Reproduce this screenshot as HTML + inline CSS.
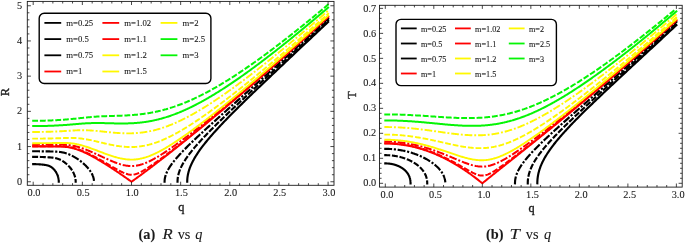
<!DOCTYPE html>
<html><head><meta charset="utf-8"><title>R vs q, T vs q</title>
<style>
html,body{margin:0;padding:0;background:#fff;}
svg{display:block;}
text{font-family:"Liberation Serif","DejaVu Serif",serif;fill:#1a1a1a;stroke:#1a1a1a;stroke-width:0.1px;}
.al{stroke-width:0.35px;}
.tl text{font-size:10.3px;}
.al{font-size:12.3px;}
.cap{font-size:14.3px;}
</style></head><body>
<svg width="685" height="243" viewBox="0 0 685 243">
<rect width="685" height="243" fill="#fff"/>
<clipPath id="clip27"><rect x="27.3" y="1.4" width="306.7" height="183.9"/></clipPath>
<g clip-path="url(#clip27)" fill="none" stroke-width="1.8" stroke-linejoin="round">
<path d="M33.20,164.15 L33.52,164.15 L33.84,164.15 L34.16,164.15 L34.47,164.16 L34.78,164.16 L35.09,164.17 L35.40,164.17 L35.71,164.18 L36.01,164.19 L36.32,164.20 L36.62,164.21 L36.92,164.22 L37.21,164.23 L37.51,164.24 L37.80,164.26 L38.09,164.27 L38.38,164.29 L38.66,164.30 L38.95,164.32 L39.23,164.34 L39.51,164.36 L39.79,164.37 L40.06,164.39 L40.34,164.41 L40.61,164.44 L40.88,164.46 L41.15,164.48 L41.42,164.50 L41.68,164.53 L41.94,164.55 L42.20,164.58 L42.46,164.61 L42.72,164.63 L42.97,164.66 L43.22,164.69 L43.47,164.72 L43.72,164.75 L43.96,164.78 L44.21,164.81 L44.45,164.84 L44.69,164.88 L44.93,164.91 L45.16,164.95 L45.40,164.98 L45.63,165.02 L45.86,165.06 L46.09,165.10 L46.31,165.15 L46.54,165.19 L46.76,165.24 L46.98,165.29 L47.19,165.34 L47.41,165.40 L47.62,165.45 L47.83,165.51 L48.04,165.58 L48.25,165.64 L48.46,165.71 L48.66,165.78 L48.86,165.86 L49.06,165.94 L49.26,166.02 L49.45,166.10 L49.65,166.19 L49.84,166.28 L50.03,166.37 L50.21,166.47 L50.40,166.57 L50.58,166.67 L50.76,166.78 L50.94,166.89 L51.12,167.00 L51.29,167.11 L51.47,167.23 L51.64,167.35 L51.81,167.47 L51.97,167.60 L52.14,167.72 L52.30,167.85 L52.46,167.99 L52.62,168.12 L52.78,168.26 L52.93,168.39 L53.09,168.53 L53.24,168.68 L53.39,168.82 L53.53,168.97 L53.68,169.11 L53.82,169.26 L53.96,169.41 L54.10,169.57 L54.24,169.72 L54.37,169.88 L54.50,170.03 L54.63,170.19 L54.76,170.35 L54.89,170.51 L55.01,170.68 L55.14,170.84 L55.26,171.00 L55.37,171.17 L55.49,171.34 L55.60,171.50 L55.72,171.67 L55.83,171.84 L55.94,172.01 L56.04,172.19 L56.15,172.36 L56.25,172.53 L56.35,172.71 L56.45,172.88 L56.54,173.06 L56.64,173.23 L56.73,173.41 L56.82,173.59 L56.91,173.76 L56.99,173.94 L57.08,174.12 L57.16,174.30 L57.24,174.48 L57.32,174.66 L57.39,174.84 L57.47,175.03 L57.54,175.21 L57.61,175.39 L57.68,175.57 L57.74,175.76 L57.81,175.94 L57.87,176.12 L57.93,176.31 L57.98,176.49 L58.04,176.68 L58.09,176.86 L58.15,177.05 L58.19,177.24 L58.24,177.42 L58.29,177.61 L58.33,177.80 L58.37,177.98 L58.41,178.17 L58.45,178.36 L58.48,178.54 L58.52,178.73 L58.55,178.92 L58.58,179.11 L58.61,179.30 L58.63,179.48 L58.65,179.67 L58.68,179.86 L58.70,180.05 L58.71,180.24 L58.73,180.43 L58.74,180.62 L58.75,180.80 L58.76,180.99 L58.77,181.18 L58.77,181.37 L58.78,181.56 L58.78,181.75" stroke="#000000" stroke-width="2.15" stroke-linecap="square"/>
<path d="M187.22,181.75 L187.23,181.12 L187.25,180.49 L187.27,179.86 L187.31,179.23 L187.36,178.60 L187.42,177.97 L187.50,177.34 L187.58,176.71 L187.68,176.08 L187.78,175.44 L187.90,174.81 L188.03,174.17 L188.17,173.54 L188.32,172.90 L188.48,172.26 L188.65,171.62 L188.83,170.98 L189.03,170.33 L189.24,169.68 L189.45,169.04 L189.68,168.39 L189.92,167.73 L190.17,167.08 L190.43,166.42 L190.71,165.76 L190.99,165.10 L191.29,164.44 L191.59,163.77 L191.91,163.10 L192.24,162.42 L192.58,161.75 L192.93,161.07 L193.29,160.39 L193.67,159.70 L194.05,159.01 L194.45,158.32 L194.85,157.62 L195.27,156.92 L195.70,156.22 L196.14,155.51 L196.59,154.80 L197.05,154.08 L197.53,153.36 L198.01,152.64 L198.51,151.91 L199.02,151.18 L199.53,150.44 L200.06,149.70 L200.60,148.95 L201.16,148.20 L201.72,147.44 L202.29,146.68 L202.88,145.91 L203.47,145.14 L204.08,144.36 L204.70,143.58 L205.33,142.79 L205.97,142.00 L206.62,141.20 L207.28,140.40 L207.96,139.59 L208.64,138.77 L209.34,137.95 L210.05,137.13 L210.77,136.29 L211.50,135.45 L212.24,134.61 L212.99,133.75 L213.75,132.90 L214.53,132.03 L215.31,131.16 L216.11,130.28 L216.92,129.40 L217.74,128.51 L218.57,127.61 L219.41,126.71 L220.26,125.79 L221.13,124.88 L222.00,123.95 L222.89,123.02 L223.78,122.08 L224.69,121.13 L225.61,120.18 L226.54,119.22 L227.48,118.25 L228.44,117.27 L229.40,116.29 L230.38,115.29 L231.36,114.29 L232.36,113.29 L233.37,112.27 L234.39,111.25 L235.42,110.22 L236.46,109.18 L237.52,108.13 L238.58,107.08 L239.65,106.01 L240.74,104.94 L241.84,103.86 L242.95,102.77 L244.07,101.68 L245.20,100.57 L246.34,99.46 L247.50,98.33 L248.66,97.20 L249.84,96.06 L251.02,94.91 L252.22,93.76 L253.43,92.59 L254.65,91.42 L255.88,90.23 L257.12,89.04 L258.38,87.84 L259.64,86.63 L260.92,85.41 L262.21,84.18 L263.50,82.94 L264.81,81.69 L266.13,80.43 L267.47,79.16 L268.81,77.89 L270.16,76.60 L271.53,75.31 L272.91,74.00 L274.29,72.69 L275.69,71.36 L277.10,70.03 L278.52,68.69 L279.95,67.33 L281.40,65.97 L282.85,64.60 L284.32,63.21 L285.79,61.82 L287.28,60.42 L288.78,59.00 L290.29,57.58 L291.81,56.15 L293.34,54.70 L294.89,53.25 L296.44,51.78 L298.01,50.31 L299.59,48.83 L301.17,47.33 L302.77,45.83 L304.38,44.31 L306.01,42.78 L307.64,41.25 L309.28,39.70 L310.94,38.14 L312.60,36.57 L314.28,34.99 L315.97,33.40 L317.67,31.80 L319.38,30.19 L321.10,28.57 L322.83,26.94 L324.58,25.29 L326.33,23.64 L328.10,21.97" stroke="#000000" stroke-width="2.15" stroke-linecap="square"/>
<path d="M33.20,156.86 L33.73,156.86 L34.26,156.86 L34.79,156.86 L35.31,156.87 L35.83,156.87 L36.34,156.88 L36.86,156.88 L37.37,156.89 L37.87,156.90 L38.37,156.91 L38.87,156.92 L39.37,156.93 L39.86,156.94 L40.35,156.95 L40.84,156.97 L41.32,156.98 L41.80,156.99 L42.27,157.01 L42.74,157.03 L43.21,157.04 L43.68,157.06 L44.14,157.08 L44.60,157.10 L45.05,157.12 L45.51,157.14 L45.95,157.16 L46.40,157.18 L46.84,157.21 L47.28,157.23 L47.72,157.26 L48.15,157.28 L48.58,157.31 L49.00,157.34 L49.42,157.37 L49.84,157.40 L50.26,157.43 L50.67,157.46 L51.08,157.50 L51.48,157.54 L51.88,157.58 L52.28,157.62 L52.67,157.67 L53.07,157.72 L53.45,157.77 L53.84,157.83 L54.22,157.90 L54.60,157.96 L54.97,158.04 L55.34,158.11 L55.71,158.20 L56.08,158.29 L56.44,158.38 L56.80,158.48 L57.15,158.58 L57.50,158.69 L57.85,158.81 L58.19,158.93 L58.53,159.05 L58.87,159.18 L59.21,159.32 L59.54,159.46 L59.87,159.60 L60.19,159.75 L60.51,159.90 L60.83,160.06 L61.14,160.22 L61.45,160.39 L61.76,160.56 L62.06,160.73 L62.36,160.91 L62.66,161.09 L62.96,161.28 L63.25,161.46 L63.53,161.65 L63.82,161.85 L64.10,162.04 L64.38,162.24 L64.65,162.44 L64.92,162.65 L65.19,162.85 L65.45,163.06 L65.71,163.27 L65.97,163.48 L66.22,163.70 L66.47,163.91 L66.72,164.13 L66.96,164.35 L67.20,164.57 L67.44,164.79 L67.67,165.01 L67.90,165.24 L68.13,165.47 L68.35,165.69 L68.57,165.92 L68.79,166.15 L69.00,166.38 L69.21,166.61 L69.42,166.85 L69.62,167.08 L69.82,167.31 L70.02,167.55 L70.21,167.78 L70.40,168.02 L70.59,168.26 L70.77,168.50 L70.95,168.73 L71.13,168.97 L71.30,169.21 L71.47,169.45 L71.64,169.69 L71.80,169.94 L71.96,170.18 L72.12,170.42 L72.27,170.66 L72.42,170.90 L72.57,171.15 L72.71,171.39 L72.85,171.63 L72.98,171.88 L73.12,172.12 L73.25,172.37 L73.37,172.61 L73.49,172.86 L73.61,173.10 L73.73,173.35 L73.84,173.59 L73.95,173.84 L74.06,174.08 L74.16,174.33 L74.26,174.58 L74.36,174.82 L74.45,175.07 L74.54,175.32 L74.62,175.56 L74.70,175.81 L74.78,176.06 L74.86,176.30 L74.93,176.55 L75.00,176.80 L75.07,177.04 L75.13,177.29 L75.19,177.54 L75.24,177.79 L75.29,178.03 L75.34,178.28 L75.39,178.53 L75.43,178.78 L75.47,179.02 L75.50,179.27 L75.54,179.52 L75.56,179.77 L75.59,180.02 L75.61,180.26 L75.63,180.51 L75.65,180.76 L75.66,181.01 L75.67,181.25 L75.67,181.50 L75.67,181.75" stroke="#000000" stroke-width="2.15" stroke-linecap="square" stroke-dasharray="3.85 3.85"/>
<path d="M177.52,181.75 L177.53,181.17 L177.55,180.59 L177.58,180.00 L177.62,179.42 L177.67,178.84 L177.74,178.25 L177.81,177.67 L177.90,177.08 L178.00,176.50 L178.12,175.91 L178.24,175.32 L178.38,174.73 L178.53,174.14 L178.69,173.55 L178.86,172.95 L179.05,172.36 L179.24,171.76 L179.45,171.16 L179.67,170.55 L179.90,169.95 L180.15,169.34 L180.40,168.73 L180.67,168.12 L180.95,167.50 L181.24,166.88 L181.55,166.26 L181.86,165.64 L182.19,165.01 L182.53,164.38 L182.88,163.74 L183.25,163.10 L183.62,162.46 L184.01,161.81 L184.41,161.16 L184.82,160.51 L185.24,159.85 L185.68,159.19 L186.12,158.52 L186.58,157.85 L187.05,157.18 L187.53,156.49 L188.03,155.81 L188.53,155.12 L189.05,154.42 L189.58,153.72 L190.12,153.02 L190.68,152.31 L191.24,151.59 L191.82,150.87 L192.41,150.14 L193.01,149.41 L193.63,148.67 L194.25,147.92 L194.89,147.17 L195.54,146.42 L196.20,145.65 L196.87,144.88 L197.56,144.11 L198.26,143.33 L198.96,142.54 L199.68,141.74 L200.42,140.94 L201.16,140.13 L201.92,139.31 L202.69,138.49 L203.47,137.66 L204.26,136.82 L205.06,135.98 L205.88,135.13 L206.71,134.27 L207.55,133.40 L208.40,132.53 L209.26,131.65 L210.14,130.76 L211.03,129.86 L211.92,128.95 L212.84,128.04 L213.76,127.12 L214.69,126.19 L215.64,125.25 L216.60,124.31 L217.57,123.35 L218.55,122.39 L219.55,121.42 L220.56,120.44 L221.57,119.45 L222.60,118.46 L223.65,117.45 L224.70,116.44 L225.77,115.41 L226.84,114.38 L227.93,113.34 L229.04,112.29 L230.15,111.23 L231.28,110.16 L232.41,109.09 L233.56,108.00 L234.72,106.90 L235.90,105.80 L237.08,104.68 L238.28,103.56 L239.49,102.42 L240.71,101.28 L241.94,100.12 L243.19,98.96 L244.45,97.79 L245.71,96.60 L246.99,95.41 L248.29,94.21 L249.59,93.00 L250.91,91.77 L252.24,90.54 L253.58,89.30 L254.93,88.04 L256.29,86.78 L257.67,85.50 L259.06,84.22 L260.46,82.92 L261.87,81.62 L263.29,80.30 L264.73,78.97 L266.17,77.64 L267.63,76.29 L269.10,74.93 L270.59,73.56 L272.08,72.18 L273.59,70.79 L275.11,69.38 L276.64,67.97 L278.18,66.55 L279.74,65.11 L281.30,63.67 L282.88,62.21 L284.47,60.74 L286.07,59.26 L287.69,57.77 L289.31,56.27 L290.95,54.75 L292.60,53.23 L294.26,51.69 L295.94,50.15 L297.62,48.59 L299.32,47.02 L301.03,45.43 L302.75,43.84 L304.48,42.23 L306.23,40.62 L307.99,38.99 L309.75,37.35 L311.54,35.70 L313.33,34.03 L315.13,32.36 L316.95,30.67 L318.78,28.97 L320.62,27.26 L322.47,25.54 L324.34,23.80 L326.21,22.05 L328.10,20.29" stroke="#000000" stroke-width="2.15" stroke-linecap="square" stroke-dasharray="3.85 3.85"/>
<path d="M33.20,151.27 L33.96,151.27 L34.72,151.27 L35.47,151.27 L36.22,151.27 L36.96,151.27 L37.70,151.28 L38.43,151.28 L39.16,151.29 L39.89,151.29 L40.61,151.30 L41.32,151.31 L42.03,151.31 L42.73,151.32 L43.43,151.33 L44.13,151.34 L44.82,151.35 L45.50,151.36 L46.18,151.37 L46.86,151.38 L47.53,151.39 L48.20,151.41 L48.86,151.42 L49.51,151.43 L50.17,151.45 L50.81,151.46 L51.45,151.48 L52.09,151.50 L52.72,151.51 L53.35,151.53 L53.97,151.55 L54.59,151.58 L55.21,151.60 L55.81,151.63 L56.42,151.66 L57.02,151.70 L57.61,151.74 L58.20,151.79 L58.78,151.84 L59.36,151.90 L59.94,151.97 L60.51,152.05 L61.07,152.13 L61.63,152.22 L62.19,152.32 L62.74,152.43 L63.28,152.54 L63.83,152.67 L64.36,152.80 L64.89,152.94 L65.42,153.09 L65.94,153.25 L66.46,153.41 L66.97,153.58 L67.48,153.76 L67.98,153.94 L68.48,154.13 L68.97,154.33 L69.46,154.53 L69.94,154.74 L70.42,154.95 L70.89,155.17 L71.36,155.40 L71.83,155.62 L72.29,155.86 L72.74,156.09 L73.19,156.33 L73.64,156.58 L74.08,156.82 L74.51,157.07 L74.94,157.32 L75.37,157.58 L75.79,157.84 L76.20,158.10 L76.62,158.36 L77.02,158.62 L77.42,158.89 L77.82,159.16 L78.21,159.43 L78.60,159.70 L78.98,159.97 L79.36,160.24 L79.73,160.52 L80.10,160.79 L80.46,161.07 L80.82,161.34 L81.17,161.62 L81.52,161.90 L81.87,162.18 L82.21,162.46 L82.54,162.74 L82.87,163.02 L83.19,163.30 L83.51,163.58 L83.83,163.87 L84.14,164.15 L84.44,164.43 L84.74,164.71 L85.04,164.99 L85.33,165.28 L85.62,165.56 L85.90,165.84 L86.18,166.12 L86.45,166.40 L86.71,166.68 L86.98,166.97 L87.23,167.25 L87.49,167.53 L87.73,167.81 L87.98,168.09 L88.21,168.37 L88.45,168.65 L88.68,168.93 L88.90,169.21 L89.12,169.49 L89.33,169.77 L89.54,170.05 L89.75,170.33 L89.95,170.60 L90.14,170.88 L90.33,171.16 L90.52,171.44 L90.70,171.71 L90.87,171.99 L91.04,172.26 L91.21,172.54 L91.37,172.81 L91.53,173.09 L91.68,173.36 L91.82,173.64 L91.97,173.91 L92.10,174.19 L92.23,174.46 L92.36,174.73 L92.48,175.00 L92.60,175.28 L92.72,175.55 L92.82,175.82 L92.93,176.09 L93.03,176.36 L93.12,176.63 L93.21,176.90 L93.29,177.18 L93.37,177.45 L93.45,177.72 L93.52,177.99 L93.58,178.26 L93.64,178.52 L93.70,178.79 L93.75,179.06 L93.79,179.33 L93.83,179.60 L93.87,179.87 L93.90,180.14 L93.93,180.41 L93.95,180.68 L93.97,180.94 L93.98,181.21 L93.99,181.48 L93.99,181.75" stroke="#000000" stroke-width="2.15" stroke-linecap="square" stroke-dasharray="5.75 3.85 0.01 3.85"/>
<path d="M164.58,181.75 L164.59,181.25 L164.61,180.74 L164.64,180.24 L164.68,179.74 L164.74,179.23 L164.81,178.73 L164.90,178.22 L164.99,177.71 L165.10,177.20 L165.23,176.69 L165.36,176.18 L165.51,175.67 L165.67,175.15 L165.85,174.64 L166.03,174.12 L166.24,173.60 L166.45,173.07 L166.68,172.54 L166.91,172.01 L167.17,171.48 L167.43,170.94 L167.71,170.41 L168.00,169.86 L168.31,169.32 L168.62,168.77 L168.95,168.21 L169.29,167.65 L169.65,167.09 L170.02,166.52 L170.40,165.95 L170.80,165.38 L171.20,164.80 L171.62,164.21 L172.06,163.62 L172.50,163.03 L172.96,162.43 L173.43,161.82 L173.92,161.21 L174.42,160.59 L174.93,159.97 L175.45,159.34 L175.99,158.71 L176.54,158.06 L177.10,157.42 L177.68,156.76 L178.27,156.10 L178.87,155.44 L179.48,154.76 L180.11,154.08 L180.75,153.40 L181.40,152.70 L182.07,152.00 L182.75,151.29 L183.44,150.57 L184.15,149.85 L184.86,149.12 L185.59,148.38 L186.34,147.63 L187.09,146.88 L187.86,146.11 L188.65,145.34 L189.44,144.56 L190.25,143.78 L191.07,142.98 L191.91,142.17 L192.75,141.36 L193.61,140.54 L194.49,139.71 L195.37,138.87 L196.27,138.02 L197.19,137.16 L198.11,136.30 L199.05,135.42 L200.00,134.54 L200.96,133.64 L201.94,132.74 L202.93,131.82 L203.93,130.90 L204.95,129.97 L205.98,129.02 L207.02,128.07 L208.07,127.11 L209.14,126.14 L210.22,125.15 L211.31,124.16 L212.42,123.16 L213.54,122.15 L214.67,121.12 L215.81,120.09 L216.97,119.04 L218.14,117.99 L219.33,116.92 L220.52,115.85 L221.73,114.76 L222.95,113.66 L224.19,112.55 L225.44,111.43 L226.70,110.30 L227.97,109.16 L229.26,108.01 L230.56,106.85 L231.87,105.67 L233.20,104.49 L234.54,103.29 L235.89,102.08 L237.26,100.86 L238.63,99.63 L240.02,98.38 L241.43,97.13 L242.84,95.86 L244.27,94.58 L245.72,93.29 L247.17,91.99 L248.64,90.68 L250.12,89.35 L251.61,88.02 L253.12,86.67 L254.64,85.31 L256.17,83.93 L257.72,82.55 L259.28,81.15 L260.85,79.74 L262.44,78.32 L264.03,76.88 L265.64,75.44 L267.27,73.98 L268.90,72.51 L270.55,71.02 L272.22,69.53 L273.89,68.02 L275.58,66.50 L277.28,64.96 L278.99,63.42 L280.72,61.86 L282.46,60.28 L284.21,58.70 L285.98,57.10 L287.76,55.49 L289.55,53.87 L291.35,52.23 L293.17,50.58 L295.00,48.92 L296.85,47.24 L298.70,45.55 L300.57,43.85 L302.45,42.14 L304.35,40.41 L306.26,38.67 L308.18,36.92 L310.11,35.15 L312.06,33.37 L314.02,31.57 L315.99,29.76 L317.98,27.94 L319.98,26.11 L321.99,24.26 L324.01,22.40 L326.05,20.53 L328.10,18.64" stroke="#000000" stroke-width="2.15" stroke-linecap="square" stroke-dasharray="5.75 3.85 0.01 3.85"/>
<path d="M33.20,146.55 L33.86,146.55 L34.52,146.55 L35.18,146.55 L35.84,146.55 L36.50,146.55 L37.16,146.55 L37.82,146.55 L38.48,146.55 L39.14,146.55 L39.80,146.55 L40.46,146.55 L41.12,146.55 L41.78,146.55 L42.44,146.55 L43.10,146.55 L43.76,146.55 L44.42,146.55 L45.08,146.55 L45.73,146.55 L46.39,146.55 L47.05,146.55 L47.71,146.55 L48.37,146.55 L49.03,146.55 L49.69,146.55 L50.35,146.55 L51.01,146.55 L51.67,146.55 L52.33,146.55 L52.99,146.55 L53.65,146.55 L54.31,146.55 L54.97,146.55 L55.63,146.55 L56.29,146.55 L56.95,146.56 L57.61,146.56 L58.27,146.57 L58.93,146.57 L59.59,146.58 L60.25,146.60 L60.91,146.62 L61.57,146.64 L62.23,146.66 L62.89,146.70 L63.55,146.74 L64.21,146.78 L64.87,146.83 L65.53,146.90 L66.19,146.97 L66.85,147.04 L67.51,147.13 L68.17,147.23 L68.83,147.33 L69.49,147.45 L70.14,147.57 L70.80,147.71 L71.46,147.85 L72.12,148.01 L72.78,148.17 L73.44,148.35 L74.10,148.53 L74.76,148.72 L75.42,148.92 L76.08,149.13 L76.74,149.35 L77.40,149.57 L78.06,149.81 L78.72,150.05 L79.38,150.30 L80.04,150.55 L80.70,150.82 L81.36,151.09 L82.02,151.37 L82.68,151.65 L83.34,151.94 L84.00,152.23 L84.66,152.53 L85.32,152.84 L85.98,153.15 L86.64,153.47 L87.30,153.79 L87.96,154.12 L88.62,154.45 L89.28,154.79 L89.94,155.13 L90.60,155.47 L91.26,155.82 L91.92,156.18 L92.58,156.53 L93.24,156.89 L93.90,157.26 L94.56,157.62 L95.21,158.00 L95.87,158.37 L96.53,158.75 L97.19,159.13 L97.85,159.51 L98.51,159.90 L99.17,160.29 L99.83,160.68 L100.49,161.07 L101.15,161.47 L101.81,161.87 L102.47,162.27 L103.13,162.68 L103.79,163.08 L104.45,163.49 L105.11,163.90 L105.77,164.32 L106.43,164.73 L107.09,165.15 L107.75,165.57 L108.41,165.99 L109.07,166.42 L109.73,166.84 L110.39,167.27 L111.05,167.70 L111.71,168.13 L112.37,168.56 L113.03,169.00 L113.69,169.44 L114.35,169.87 L115.01,170.31 L115.67,170.75 L116.33,171.20 L116.99,171.64 L117.65,172.09 L118.31,172.53 L118.97,172.98 L119.62,173.43 L120.28,173.88 L120.94,174.34 L121.60,174.79 L122.26,175.25 L122.92,175.70 L123.58,176.16 L124.24,176.62 L124.90,177.08 L125.56,177.54 L126.22,178.01 L126.88,178.47 L127.54,178.93 L128.20,179.40 L128.86,179.87 L129.52,180.34 L130.18,180.81 L130.84,181.28 L131.50,181.75 L132.26,181.21 L133.02,180.66 L133.78,180.11 L134.54,179.56 L135.30,179.01 L136.05,178.46 L136.81,177.91 L137.57,177.36 L138.33,176.80 L139.09,176.25 L139.85,175.69 L140.61,175.13 L141.37,174.57 L142.13,174.01 L142.89,173.45 L143.65,172.89 L144.40,172.32 L145.16,171.76 L145.92,171.19 L146.68,170.62 L147.44,170.05 L148.20,169.48 L148.96,168.91 L149.72,168.34 L150.48,167.77 L151.24,167.20 L151.99,166.62 L152.75,166.05 L153.51,165.47 L154.27,164.89 L155.03,164.31 L155.79,163.73 L156.55,163.15 L157.31,162.57 L158.07,161.99 L158.83,161.41 L159.59,160.82 L160.34,160.24 L161.10,159.65 L161.86,159.06 L162.62,158.48 L163.38,157.89 L164.14,157.30 L164.90,156.71 L165.66,156.12 L166.42,155.52 L167.18,154.93 L167.94,154.34 L168.69,153.74 L169.45,153.15 L170.21,152.55 L170.97,151.96 L171.73,151.36 L172.49,150.76 L173.25,150.16 L174.01,149.56 L174.77,148.96 L175.53,148.36 L176.29,147.76 L177.04,147.16 L177.80,146.55 L178.56,145.95 L179.32,145.34 L180.08,144.74 L180.84,144.13 L181.60,143.52 L182.36,142.92 L183.12,142.31 L183.88,141.70 L184.64,141.09 L185.39,140.48 L186.15,139.87 L186.91,139.26 L187.67,138.64 L188.43,138.03 L189.19,137.42 L189.95,136.80 L190.71,136.19 L191.47,135.57 L192.23,134.95 L192.98,134.34 L193.74,133.72 L194.50,133.10 L195.26,132.48 L196.02,131.86 L196.78,131.24 L197.54,130.62 L198.30,130.00 L199.06,129.38 L199.82,128.76 L200.58,128.13 L201.33,127.51 L202.09,126.88 L202.85,126.26 L203.61,125.63 L204.37,125.01 L205.13,124.38 L205.89,123.75 L206.65,123.13 L207.41,122.50 L208.17,121.87 L208.93,121.24 L209.68,120.61 L210.44,119.98 L211.20,119.35 L211.96,118.72 L212.72,118.09 L213.48,117.45 L214.24,116.82 L215.00,116.19 L215.76,115.55 L216.52,114.92 L217.28,114.28 L218.03,113.65 L218.79,113.01 L219.55,112.37 L220.31,111.73 L221.07,111.10 L221.83,110.46 L222.59,109.82 L223.35,109.18 L224.11,108.54 L224.87,107.90 L225.63,107.26 L226.38,106.62 L227.14,105.98 L227.90,105.33 L228.66,104.69 L229.42,104.05 L230.18,103.40 L230.94,102.76 L231.70,102.11 L232.46,101.47 L233.22,100.82 L233.97,100.18 L234.73,99.53 L235.49,98.88 L236.25,98.24 L237.01,97.59 L237.77,96.94 L238.53,96.29 L239.29,95.64 L240.05,94.99 L240.81,94.34 L241.57,93.69 L242.32,93.04 L243.08,92.39 L243.84,91.74 L244.60,91.08 L245.36,90.43 L246.12,89.78 L246.88,89.12 L247.64,88.47 L248.40,87.81 L249.16,87.16 L249.92,86.50 L250.67,85.85 L251.43,85.19 L252.19,84.53 L252.95,83.88 L253.71,83.22 L254.47,82.56 L255.23,81.90 L255.99,81.24 L256.75,80.59 L257.51,79.93 L258.27,79.27 L259.02,78.61 L259.78,77.94 L260.54,77.28 L261.30,76.62 L262.06,75.96 L262.82,75.30 L263.58,74.63 L264.34,73.97 L265.10,73.31 L265.86,72.64 L266.62,71.98 L267.37,71.31 L268.13,70.65 L268.89,69.98 L269.65,69.32 L270.41,68.65 L271.17,67.98 L271.93,67.32 L272.69,66.65 L273.45,65.98 L274.21,65.31 L274.96,64.65 L275.72,63.98 L276.48,63.31 L277.24,62.64 L278.00,61.97 L278.76,61.30 L279.52,60.63 L280.28,59.96 L281.04,59.28 L281.80,58.61 L282.56,57.94 L283.31,57.27 L284.07,56.60 L284.83,55.92 L285.59,55.25 L286.35,54.57 L287.11,53.90 L287.87,53.23 L288.63,52.55 L289.39,51.88 L290.15,51.20 L290.91,50.52 L291.66,49.85 L292.42,49.17 L293.18,48.49 L293.94,47.82 L294.70,47.14 L295.46,46.46 L296.22,45.78 L296.98,45.10 L297.74,44.42 L298.50,43.74 L299.26,43.07 L300.01,42.39 L300.77,41.70 L301.53,41.02 L302.29,40.34 L303.05,39.66 L303.81,38.98 L304.57,38.30 L305.33,37.62 L306.09,36.93 L306.85,36.25 L307.61,35.57 L308.36,34.88 L309.12,34.20 L309.88,33.52 L310.64,32.83 L311.40,32.15 L312.16,31.46 L312.92,30.78 L313.68,30.09 L314.44,29.40 L315.20,28.72 L315.95,28.03 L316.71,27.34 L317.47,26.66 L318.23,25.97 L318.99,25.28 L319.75,24.59 L320.51,23.90 L321.27,23.22 L322.03,22.53 L322.79,21.84 L323.55,21.15 L324.30,20.46 L325.06,19.77 L325.82,19.08 L326.58,18.38 L327.34,17.69 L328.10,17.00" stroke="#ff0000" stroke-width="2.0" stroke-linecap="square"/>
<path d="M33.20,146.20 L33.94,146.20 L34.68,146.20 L35.42,146.20 L36.16,146.20 L36.90,146.20 L37.63,146.20 L38.37,146.20 L39.11,146.20 L39.85,146.20 L40.59,146.20 L41.33,146.20 L42.07,146.20 L42.81,146.20 L43.55,146.20 L44.29,146.20 L45.03,146.19 L45.76,146.19 L46.50,146.19 L47.24,146.19 L47.98,146.19 L48.72,146.19 L49.46,146.19 L50.20,146.19 L50.94,146.19 L51.68,146.19 L52.42,146.19 L53.16,146.19 L53.89,146.18 L54.63,146.18 L55.37,146.18 L56.11,146.18 L56.85,146.18 L57.59,146.19 L58.33,146.19 L59.07,146.20 L59.81,146.21 L60.55,146.22 L61.29,146.24 L62.02,146.26 L62.76,146.29 L63.50,146.33 L64.24,146.37 L64.98,146.43 L65.72,146.49 L66.46,146.56 L67.20,146.65 L67.94,146.74 L68.68,146.85 L69.42,146.97 L70.15,147.10 L70.89,147.24 L71.63,147.39 L72.37,147.56 L73.11,147.74 L73.85,147.93 L74.59,148.13 L75.33,148.34 L76.07,148.56 L76.81,148.79 L77.55,149.03 L78.28,149.29 L79.02,149.55 L79.76,149.82 L80.50,150.10 L81.24,150.39 L81.98,150.68 L82.72,150.99 L83.46,151.30 L84.20,151.62 L84.94,151.94 L85.68,152.27 L86.42,152.61 L87.15,152.96 L87.89,153.31 L88.63,153.66 L89.37,154.02 L90.11,154.39 L90.85,154.76 L91.59,155.14 L92.33,155.52 L93.07,155.90 L93.81,156.29 L94.55,156.68 L95.28,157.08 L96.02,157.48 L96.76,157.88 L97.50,158.29 L98.24,158.69 L98.98,159.11 L99.72,159.52 L100.46,159.94 L101.20,160.36 L101.94,160.78 L102.68,161.20 L103.41,161.62 L104.15,162.05 L104.89,162.48 L105.63,162.91 L106.37,163.33 L107.11,163.76 L107.85,164.20 L108.59,164.63 L109.33,165.06 L110.07,165.49 L110.81,165.92 L111.54,166.35 L112.28,166.78 L113.02,167.20 L113.76,167.63 L114.50,168.05 L115.24,168.47 L115.98,168.89 L116.72,169.30 L117.46,169.71 L118.20,170.11 L118.94,170.50 L119.67,170.89 L120.41,171.27 L121.15,171.64 L121.89,172.00 L122.63,172.35 L123.37,172.68 L124.11,172.99 L124.85,173.29 L125.59,173.56 L126.33,173.82 L127.07,174.04 L127.80,174.24 L128.54,174.41 L129.28,174.54 L130.02,174.64 L130.76,174.69 L131.50,174.71 L132.24,174.69 L132.98,174.63 L133.72,174.54 L134.46,174.40 L135.20,174.23 L135.93,174.02 L136.67,173.78 L137.41,173.52 L138.15,173.23 L138.89,172.91 L139.63,172.57 L140.37,172.21 L141.11,171.84 L141.85,171.45 L142.59,171.04 L143.33,170.62 L144.06,170.19 L144.80,169.75 L145.54,169.30 L146.28,168.84 L147.02,168.38 L147.76,167.90 L148.50,167.42 L149.24,166.94 L149.98,166.44 L150.72,165.95 L151.46,165.44 L152.19,164.94 L152.93,164.43 L153.67,163.91 L154.41,163.39 L155.15,162.87 L155.89,162.35 L156.63,161.82 L157.37,161.29 L158.11,160.76 L158.85,160.22 L159.59,159.68 L160.32,159.14 L161.06,158.60 L161.80,158.06 L162.54,157.51 L163.28,156.96 L164.02,156.41 L164.76,155.86 L165.50,155.30 L166.24,154.75 L166.98,154.19 L167.72,153.63 L168.45,153.07 L169.19,152.51 L169.93,151.95 L170.67,151.38 L171.41,150.82 L172.15,150.25 L172.89,149.68 L173.63,149.11 L174.37,148.54 L175.11,147.97 L175.85,147.40 L176.58,146.82 L177.32,146.25 L178.06,145.67 L178.80,145.09 L179.54,144.51 L180.28,143.94 L181.02,143.36 L181.76,142.77 L182.50,142.19 L183.24,141.61 L183.98,141.02 L184.72,140.44 L185.45,139.85 L186.19,139.27 L186.93,138.68 L187.67,138.09 L188.41,137.50 L189.15,136.91 L189.89,136.32 L190.63,135.73 L191.37,135.14 L192.11,134.54 L192.85,133.95 L193.58,133.35 L194.32,132.76 L195.06,132.16 L195.80,131.57 L196.54,130.97 L197.28,130.37 L198.02,129.77 L198.76,129.17 L199.50,128.57 L200.24,127.97 L200.98,127.37 L201.71,126.77 L202.45,126.16 L203.19,125.56 L203.93,124.95 L204.67,124.35 L205.41,123.74 L206.15,123.14 L206.89,122.53 L207.63,121.92 L208.37,121.31 L209.11,120.71 L209.84,120.10 L210.58,119.49 L211.32,118.88 L212.06,118.26 L212.80,117.65 L213.54,117.04 L214.28,116.43 L215.02,115.81 L215.76,115.20 L216.50,114.58 L217.24,113.97 L217.97,113.35 L218.71,112.74 L219.45,112.12 L220.19,111.50 L220.93,110.89 L221.67,110.27 L222.41,109.65 L223.15,109.03 L223.89,108.41 L224.63,107.79 L225.37,107.17 L226.10,106.55 L226.84,105.92 L227.58,105.30 L228.32,104.68 L229.06,104.05 L229.80,103.43 L230.54,102.81 L231.28,102.18 L232.02,101.55 L232.76,100.93 L233.50,100.30 L234.23,99.68 L234.97,99.05 L235.71,98.42 L236.45,97.79 L237.19,97.16 L237.93,96.53 L238.67,95.90 L239.41,95.27 L240.15,94.64 L240.89,94.01 L241.63,93.38 L242.36,92.75 L243.10,92.12 L243.84,91.48 L244.58,90.85 L245.32,90.22 L246.06,89.58 L246.80,88.95 L247.54,88.31 L248.28,87.68 L249.02,87.04 L249.76,86.40 L250.49,85.77 L251.23,85.13 L251.97,84.49 L252.71,83.85 L253.45,83.21 L254.19,82.58 L254.93,81.94 L255.67,81.30 L256.41,80.66 L257.15,80.02 L257.89,79.38 L258.62,78.73 L259.36,78.09 L260.10,77.45 L260.84,76.81 L261.58,76.16 L262.32,75.52 L263.06,74.88 L263.80,74.23 L264.54,73.59 L265.28,72.94 L266.02,72.30 L266.75,71.65 L267.49,71.01 L268.23,70.36 L268.97,69.71 L269.71,69.07 L270.45,68.42 L271.19,67.77 L271.93,67.12 L272.67,66.47 L273.41,65.83 L274.15,65.18 L274.88,64.53 L275.62,63.88 L276.36,63.23 L277.10,62.58 L277.84,61.92 L278.58,61.27 L279.32,60.62 L280.06,59.97 L280.80,59.32 L281.54,58.66 L282.28,58.01 L283.02,57.36 L283.75,56.70 L284.49,56.05 L285.23,55.39 L285.97,54.74 L286.71,54.08 L287.45,53.43 L288.19,52.77 L288.93,52.11 L289.67,51.46 L290.41,50.80 L291.15,50.14 L291.88,49.49 L292.62,48.83 L293.36,48.17 L294.10,47.51 L294.84,46.85 L295.58,46.19 L296.32,45.53 L297.06,44.87 L297.80,44.21 L298.54,43.55 L299.28,42.89 L300.01,42.23 L300.75,41.57 L301.49,40.91 L302.23,40.24 L302.97,39.58 L303.71,38.92 L304.45,38.25 L305.19,37.59 L305.93,36.93 L306.67,36.26 L307.41,35.60 L308.14,34.93 L308.88,34.27 L309.62,33.60 L310.36,32.94 L311.10,32.27 L311.84,31.61 L312.58,30.94 L313.32,30.27 L314.06,29.60 L314.80,28.94 L315.54,28.27 L316.27,27.60 L317.01,26.93 L317.75,26.26 L318.49,25.60 L319.23,24.93 L319.97,24.26 L320.71,23.59 L321.45,22.92 L322.19,22.25 L322.93,21.58 L323.67,20.90 L324.40,20.23 L325.14,19.56 L325.88,18.89 L326.62,18.22 L327.36,17.55 L328.10,16.87" stroke="#ff0000" stroke-width="2.0" stroke-linecap="square" stroke-dasharray="3.85 3.85"/>
<path d="M33.20,144.83 L33.94,144.83 L34.68,144.83 L35.42,144.83 L36.16,144.83 L36.90,144.83 L37.63,144.83 L38.37,144.83 L39.11,144.83 L39.85,144.82 L40.59,144.82 L41.33,144.82 L42.07,144.82 L42.81,144.82 L43.55,144.81 L44.29,144.81 L45.03,144.81 L45.76,144.81 L46.50,144.80 L47.24,144.80 L47.98,144.80 L48.72,144.79 L49.46,144.79 L50.20,144.78 L50.94,144.78 L51.68,144.77 L52.42,144.77 L53.16,144.76 L53.89,144.76 L54.63,144.75 L55.37,144.75 L56.11,144.74 L56.85,144.74 L57.59,144.73 L58.33,144.73 L59.07,144.73 L59.81,144.73 L60.55,144.73 L61.29,144.73 L62.02,144.74 L62.76,144.76 L63.50,144.77 L64.24,144.80 L64.98,144.83 L65.72,144.87 L66.46,144.92 L67.20,144.97 L67.94,145.04 L68.68,145.11 L69.42,145.20 L70.15,145.29 L70.89,145.40 L71.63,145.52 L72.37,145.64 L73.11,145.78 L73.85,145.93 L74.59,146.09 L75.33,146.26 L76.07,146.44 L76.81,146.62 L77.55,146.82 L78.28,147.03 L79.02,147.25 L79.76,147.47 L80.50,147.70 L81.24,147.95 L81.98,148.20 L82.72,148.45 L83.46,148.71 L84.20,148.98 L84.94,149.26 L85.68,149.54 L86.42,149.83 L87.15,150.12 L87.89,150.42 L88.63,150.73 L89.37,151.03 L90.11,151.35 L90.85,151.66 L91.59,151.98 L92.33,152.30 L93.07,152.63 L93.81,152.96 L94.55,153.29 L95.28,153.62 L96.02,153.96 L96.76,154.29 L97.50,154.63 L98.24,154.97 L98.98,155.31 L99.72,155.66 L100.46,156.00 L101.20,156.34 L101.94,156.68 L102.68,157.03 L103.41,157.37 L104.15,157.71 L104.89,158.05 L105.63,158.38 L106.37,158.72 L107.11,159.05 L107.85,159.39 L108.59,159.71 L109.33,160.04 L110.07,160.36 L110.81,160.68 L111.54,161.00 L112.28,161.30 L113.02,161.61 L113.76,161.91 L114.50,162.20 L115.24,162.49 L115.98,162.77 L116.72,163.04 L117.46,163.30 L118.20,163.56 L118.94,163.80 L119.67,164.04 L120.41,164.27 L121.15,164.48 L121.89,164.69 L122.63,164.88 L123.37,165.06 L124.11,165.22 L124.85,165.38 L125.59,165.51 L126.33,165.64 L127.07,165.75 L127.80,165.84 L128.54,165.92 L129.28,165.98 L130.02,166.02 L130.76,166.04 L131.50,166.05 L132.24,166.04 L132.98,166.02 L133.72,165.97 L134.46,165.91 L135.20,165.83 L135.93,165.73 L136.67,165.61 L137.41,165.48 L138.15,165.33 L138.89,165.17 L139.63,164.98 L140.37,164.79 L141.11,164.57 L141.85,164.35 L142.59,164.10 L143.33,163.85 L144.06,163.58 L144.80,163.30 L145.54,163.00 L146.28,162.70 L147.02,162.38 L147.76,162.05 L148.50,161.71 L149.24,161.36 L149.98,161.00 L150.72,160.64 L151.46,160.26 L152.19,159.87 L152.93,159.48 L153.67,159.08 L154.41,158.67 L155.15,158.26 L155.89,157.83 L156.63,157.41 L157.37,156.97 L158.11,156.53 L158.85,156.09 L159.59,155.63 L160.32,155.18 L161.06,154.72 L161.80,154.25 L162.54,153.78 L163.28,153.30 L164.02,152.82 L164.76,152.34 L165.50,151.85 L166.24,151.36 L166.98,150.87 L167.72,150.37 L168.45,149.87 L169.19,149.36 L169.93,148.86 L170.67,148.35 L171.41,147.83 L172.15,147.32 L172.89,146.80 L173.63,146.28 L174.37,145.75 L175.11,145.22 L175.85,144.70 L176.58,144.16 L177.32,143.63 L178.06,143.09 L178.80,142.56 L179.54,142.02 L180.28,141.47 L181.02,140.93 L181.76,140.39 L182.50,139.84 L183.24,139.29 L183.98,138.74 L184.72,138.18 L185.45,137.63 L186.19,137.07 L186.93,136.52 L187.67,135.96 L188.41,135.40 L189.15,134.83 L189.89,134.27 L190.63,133.70 L191.37,133.14 L192.11,132.57 L192.85,132.00 L193.58,131.43 L194.32,130.86 L195.06,130.28 L195.80,129.71 L196.54,129.14 L197.28,128.56 L198.02,127.98 L198.76,127.40 L199.50,126.82 L200.24,126.24 L200.98,125.66 L201.71,125.08 L202.45,124.49 L203.19,123.91 L203.93,123.32 L204.67,122.73 L205.41,122.14 L206.15,121.55 L206.89,120.96 L207.63,120.37 L208.37,119.78 L209.11,119.19 L209.84,118.59 L210.58,118.00 L211.32,117.40 L212.06,116.81 L212.80,116.21 L213.54,115.61 L214.28,115.01 L215.02,114.41 L215.76,113.81 L216.50,113.21 L217.24,112.61 L217.97,112.01 L218.71,111.40 L219.45,110.80 L220.19,110.19 L220.93,109.59 L221.67,108.98 L222.41,108.37 L223.15,107.77 L223.89,107.16 L224.63,106.55 L225.37,105.94 L226.10,105.33 L226.84,104.71 L227.58,104.10 L228.32,103.49 L229.06,102.88 L229.80,102.26 L230.54,101.65 L231.28,101.03 L232.02,100.42 L232.76,99.80 L233.50,99.18 L234.23,98.56 L234.97,97.95 L235.71,97.33 L236.45,96.71 L237.19,96.09 L237.93,95.47 L238.67,94.84 L239.41,94.22 L240.15,93.60 L240.89,92.98 L241.63,92.35 L242.36,91.73 L243.10,91.10 L243.84,90.48 L244.58,89.85 L245.32,89.23 L246.06,88.60 L246.80,87.97 L247.54,87.34 L248.28,86.72 L249.02,86.09 L249.76,85.46 L250.49,84.83 L251.23,84.20 L251.97,83.57 L252.71,82.93 L253.45,82.30 L254.19,81.67 L254.93,81.04 L255.67,80.40 L256.41,79.77 L257.15,79.13 L257.89,78.50 L258.62,77.86 L259.36,77.23 L260.10,76.59 L260.84,75.95 L261.58,75.32 L262.32,74.68 L263.06,74.04 L263.80,73.40 L264.54,72.76 L265.28,72.12 L266.02,71.48 L266.75,70.84 L267.49,70.20 L268.23,69.56 L268.97,68.92 L269.71,68.28 L270.45,67.64 L271.19,66.99 L271.93,66.35 L272.67,65.70 L273.41,65.06 L274.15,64.42 L274.88,63.77 L275.62,63.13 L276.36,62.48 L277.10,61.83 L277.84,61.19 L278.58,60.54 L279.32,59.89 L280.06,59.24 L280.80,58.60 L281.54,57.95 L282.28,57.30 L283.02,56.65 L283.75,56.00 L284.49,55.35 L285.23,54.70 L285.97,54.05 L286.71,53.39 L287.45,52.74 L288.19,52.09 L288.93,51.44 L289.67,50.78 L290.41,50.13 L291.15,49.48 L291.88,48.82 L292.62,48.17 L293.36,47.51 L294.10,46.86 L294.84,46.20 L295.58,45.55 L296.32,44.89 L297.06,44.23 L297.80,43.58 L298.54,42.92 L299.28,42.26 L300.01,41.60 L300.75,40.95 L301.49,40.29 L302.23,39.63 L302.97,38.97 L303.71,38.31 L304.45,37.65 L305.19,36.99 L305.93,36.33 L306.67,35.67 L307.41,35.01 L308.14,34.34 L308.88,33.68 L309.62,33.02 L310.36,32.36 L311.10,31.69 L311.84,31.03 L312.58,30.37 L313.32,29.70 L314.06,29.04 L314.80,28.37 L315.54,27.71 L316.27,27.04 L317.01,26.38 L317.75,25.71 L318.49,25.04 L319.23,24.38 L319.97,23.71 L320.71,23.04 L321.45,22.38 L322.19,21.71 L322.93,21.04 L323.67,20.37 L324.40,19.70 L325.14,19.03 L325.88,18.36 L326.62,17.69 L327.36,17.02 L328.10,16.35" stroke="#ff0000" stroke-width="2.0" stroke-linecap="square" stroke-dasharray="5.75 3.85 0.01 3.85"/>
<path d="M33.20,143.19 L33.94,143.19 L34.68,143.19 L35.42,143.19 L36.16,143.19 L36.90,143.19 L37.63,143.18 L38.37,143.18 L39.11,143.18 L39.85,143.18 L40.59,143.17 L41.33,143.17 L42.07,143.17 L42.81,143.16 L43.55,143.16 L44.29,143.15 L45.03,143.15 L45.76,143.14 L46.50,143.14 L47.24,143.13 L47.98,143.12 L48.72,143.12 L49.46,143.11 L50.20,143.10 L50.94,143.09 L51.68,143.08 L52.42,143.07 L53.16,143.07 L53.89,143.06 L54.63,143.05 L55.37,143.04 L56.11,143.02 L56.85,143.01 L57.59,143.00 L58.33,142.99 L59.07,142.98 L59.81,142.97 L60.55,142.96 L61.29,142.96 L62.02,142.95 L62.76,142.95 L63.50,142.95 L64.24,142.96 L64.98,142.97 L65.72,142.99 L66.46,143.01 L67.20,143.04 L67.94,143.07 L68.68,143.12 L69.42,143.17 L70.15,143.23 L70.89,143.30 L71.63,143.38 L72.37,143.47 L73.11,143.56 L73.85,143.67 L74.59,143.78 L75.33,143.91 L76.07,144.04 L76.81,144.19 L77.55,144.34 L78.28,144.50 L79.02,144.67 L79.76,144.85 L80.50,145.03 L81.24,145.23 L81.98,145.43 L82.72,145.63 L83.46,145.85 L84.20,146.07 L84.94,146.29 L85.68,146.53 L86.42,146.76 L87.15,147.01 L87.89,147.25 L88.63,147.50 L89.37,147.76 L90.11,148.02 L90.85,148.28 L91.59,148.55 L92.33,148.82 L93.07,149.09 L93.81,149.36 L94.55,149.64 L95.28,149.91 L96.02,150.19 L96.76,150.47 L97.50,150.75 L98.24,151.03 L98.98,151.31 L99.72,151.60 L100.46,151.88 L101.20,152.16 L101.94,152.44 L102.68,152.72 L103.41,153.00 L104.15,153.27 L104.89,153.55 L105.63,153.82 L106.37,154.09 L107.11,154.36 L107.85,154.62 L108.59,154.88 L109.33,155.14 L110.07,155.39 L110.81,155.64 L111.54,155.89 L112.28,156.13 L113.02,156.36 L113.76,156.59 L114.50,156.81 L115.24,157.03 L115.98,157.24 L116.72,157.45 L117.46,157.64 L118.20,157.83 L118.94,158.01 L119.67,158.19 L120.41,158.35 L121.15,158.51 L121.89,158.66 L122.63,158.79 L123.37,158.92 L124.11,159.04 L124.85,159.15 L125.59,159.24 L126.33,159.33 L127.07,159.41 L127.80,159.47 L128.54,159.52 L129.28,159.56 L130.02,159.59 L130.76,159.61 L131.50,159.61 L132.24,159.60 L132.98,159.58 L133.72,159.55 L134.46,159.50 L135.20,159.45 L135.93,159.38 L136.67,159.29 L137.41,159.20 L138.15,159.09 L138.89,158.97 L139.63,158.84 L140.37,158.69 L141.11,158.53 L141.85,158.37 L142.59,158.19 L143.33,157.99 L144.06,157.79 L144.80,157.58 L145.54,157.35 L146.28,157.12 L147.02,156.87 L147.76,156.62 L148.50,156.35 L149.24,156.08 L149.98,155.79 L150.72,155.50 L151.46,155.19 L152.19,154.88 L152.93,154.56 L153.67,154.24 L154.41,153.90 L155.15,153.56 L155.89,153.21 L156.63,152.85 L157.37,152.48 L158.11,152.11 L158.85,151.73 L159.59,151.35 L160.32,150.95 L161.06,150.56 L161.80,150.15 L162.54,149.74 L163.28,149.33 L164.02,148.91 L164.76,148.49 L165.50,148.06 L166.24,147.62 L166.98,147.18 L167.72,146.74 L168.45,146.29 L169.19,145.84 L169.93,145.38 L170.67,144.92 L171.41,144.45 L172.15,143.99 L172.89,143.51 L173.63,143.04 L174.37,142.56 L175.11,142.07 L175.85,141.59 L176.58,141.10 L177.32,140.61 L178.06,140.11 L178.80,139.61 L179.54,139.11 L180.28,138.61 L181.02,138.10 L181.76,137.59 L182.50,137.08 L183.24,136.57 L183.98,136.05 L184.72,135.53 L185.45,135.01 L186.19,134.48 L186.93,133.96 L187.67,133.43 L188.41,132.90 L189.15,132.37 L189.89,131.83 L190.63,131.30 L191.37,130.76 L192.11,130.22 L192.85,129.67 L193.58,129.13 L194.32,128.58 L195.06,128.04 L195.80,127.49 L196.54,126.94 L197.28,126.38 L198.02,125.83 L198.76,125.28 L199.50,124.72 L200.24,124.16 L200.98,123.60 L201.71,123.04 L202.45,122.47 L203.19,121.91 L203.93,121.34 L204.67,120.78 L205.41,120.21 L206.15,119.64 L206.89,119.07 L207.63,118.50 L208.37,117.92 L209.11,117.35 L209.84,116.77 L210.58,116.19 L211.32,115.62 L212.06,115.04 L212.80,114.46 L213.54,113.87 L214.28,113.29 L215.02,112.71 L215.76,112.12 L216.50,111.54 L217.24,110.95 L217.97,110.36 L218.71,109.77 L219.45,109.18 L220.19,108.59 L220.93,108.00 L221.67,107.41 L222.41,106.81 L223.15,106.22 L223.89,105.62 L224.63,105.03 L225.37,104.43 L226.10,103.83 L226.84,103.23 L227.58,102.63 L228.32,102.03 L229.06,101.43 L229.80,100.83 L230.54,100.23 L231.28,99.62 L232.02,99.02 L232.76,98.41 L233.50,97.81 L234.23,97.20 L234.97,96.59 L235.71,95.98 L236.45,95.37 L237.19,94.76 L237.93,94.15 L238.67,93.54 L239.41,92.93 L240.15,92.32 L240.89,91.70 L241.63,91.09 L242.36,90.47 L243.10,89.86 L243.84,89.24 L244.58,88.63 L245.32,88.01 L246.06,87.39 L246.80,86.77 L247.54,86.15 L248.28,85.53 L249.02,84.91 L249.76,84.29 L250.49,83.67 L251.23,83.05 L251.97,82.42 L252.71,81.80 L253.45,81.17 L254.19,80.55 L254.93,79.92 L255.67,79.30 L256.41,78.67 L257.15,78.04 L257.89,77.42 L258.62,76.79 L259.36,76.16 L260.10,75.53 L260.84,74.90 L261.58,74.27 L262.32,73.64 L263.06,73.01 L263.80,72.38 L264.54,71.74 L265.28,71.11 L266.02,70.48 L266.75,69.84 L267.49,69.21 L268.23,68.57 L268.97,67.94 L269.71,67.30 L270.45,66.66 L271.19,66.03 L271.93,65.39 L272.67,64.75 L273.41,64.11 L274.15,63.47 L274.88,62.83 L275.62,62.19 L276.36,61.55 L277.10,60.91 L277.84,60.27 L278.58,59.63 L279.32,58.99 L280.06,58.35 L280.80,57.70 L281.54,57.06 L282.28,56.41 L283.02,55.77 L283.75,55.12 L284.49,54.48 L285.23,53.83 L285.97,53.19 L286.71,52.54 L287.45,51.89 L288.19,51.25 L288.93,50.60 L289.67,49.95 L290.41,49.30 L291.15,48.65 L291.88,48.00 L292.62,47.35 L293.36,46.70 L294.10,46.05 L294.84,45.40 L295.58,44.75 L296.32,44.10 L297.06,43.44 L297.80,42.79 L298.54,42.14 L299.28,41.48 L300.01,40.83 L300.75,40.18 L301.49,39.52 L302.23,38.87 L302.97,38.21 L303.71,37.55 L304.45,36.90 L305.19,36.24 L305.93,35.58 L306.67,34.93 L307.41,34.27 L308.14,33.61 L308.88,32.95 L309.62,32.29 L310.36,31.63 L311.10,30.98 L311.84,30.32 L312.58,29.65 L313.32,28.99 L314.06,28.33 L314.80,27.67 L315.54,27.01 L316.27,26.35 L317.01,25.69 L317.75,25.02 L318.49,24.36 L319.23,23.70 L319.97,23.03 L320.71,22.37 L321.45,21.70 L322.19,21.04 L322.93,20.37 L323.67,19.71 L324.40,19.04 L325.14,18.38 L325.88,17.71 L326.62,17.04 L327.36,16.38 L328.10,15.71" stroke="#fff800" stroke-width="1.9" stroke-linecap="square"/>
<path d="M33.20,138.64 L33.94,138.64 L34.68,138.64 L35.42,138.64 L36.16,138.63 L36.90,138.63 L37.63,138.63 L38.37,138.62 L39.11,138.62 L39.85,138.61 L40.59,138.61 L41.33,138.60 L42.07,138.59 L42.81,138.58 L43.55,138.57 L44.29,138.56 L45.03,138.55 L45.76,138.54 L46.50,138.53 L47.24,138.52 L47.98,138.51 L48.72,138.49 L49.46,138.48 L50.20,138.46 L50.94,138.45 L51.68,138.43 L52.42,138.41 L53.16,138.39 L53.89,138.37 L54.63,138.35 L55.37,138.33 L56.11,138.31 L56.85,138.29 L57.59,138.27 L58.33,138.24 L59.07,138.22 L59.81,138.19 L60.55,138.17 L61.29,138.14 L62.02,138.12 L62.76,138.09 L63.50,138.07 L64.24,138.04 L64.98,138.02 L65.72,137.99 L66.46,137.97 L67.20,137.96 L67.94,137.94 L68.68,137.93 L69.42,137.92 L70.15,137.92 L70.89,137.92 L71.63,137.92 L72.37,137.93 L73.11,137.95 L73.85,137.97 L74.59,138.00 L75.33,138.03 L76.07,138.08 L76.81,138.12 L77.55,138.18 L78.28,138.24 L79.02,138.31 L79.76,138.38 L80.50,138.47 L81.24,138.55 L81.98,138.65 L82.72,138.75 L83.46,138.86 L84.20,138.97 L84.94,139.09 L85.68,139.21 L86.42,139.34 L87.15,139.47 L87.89,139.61 L88.63,139.76 L89.37,139.90 L90.11,140.05 L90.85,140.21 L91.59,140.36 L92.33,140.52 L93.07,140.69 L93.81,140.85 L94.55,141.02 L95.28,141.19 L96.02,141.36 L96.76,141.53 L97.50,141.71 L98.24,141.88 L98.98,142.06 L99.72,142.23 L100.46,142.41 L101.20,142.58 L101.94,142.76 L102.68,142.93 L103.41,143.10 L104.15,143.28 L104.89,143.45 L105.63,143.62 L106.37,143.79 L107.11,143.95 L107.85,144.11 L108.59,144.28 L109.33,144.43 L110.07,144.59 L110.81,144.74 L111.54,144.89 L112.28,145.04 L113.02,145.18 L113.76,145.32 L114.50,145.45 L115.24,145.58 L115.98,145.71 L116.72,145.83 L117.46,145.95 L118.20,146.06 L118.94,146.16 L119.67,146.27 L120.41,146.36 L121.15,146.45 L121.89,146.53 L122.63,146.61 L123.37,146.68 L124.11,146.75 L124.85,146.81 L125.59,146.86 L126.33,146.91 L127.07,146.95 L127.80,146.98 L128.54,147.01 L129.28,147.02 L130.02,147.04 L130.76,147.04 L131.50,147.04 L132.24,147.03 L132.98,147.01 L133.72,146.98 L134.46,146.95 L135.20,146.90 L135.93,146.86 L136.67,146.80 L137.41,146.73 L138.15,146.66 L138.89,146.58 L139.63,146.49 L140.37,146.39 L141.11,146.29 L141.85,146.18 L142.59,146.06 L143.33,145.93 L144.06,145.79 L144.80,145.65 L145.54,145.50 L146.28,145.34 L147.02,145.17 L147.76,145.00 L148.50,144.82 L149.24,144.63 L149.98,144.43 L150.72,144.23 L151.46,144.01 L152.19,143.80 L152.93,143.57 L153.67,143.34 L154.41,143.10 L155.15,142.85 L155.89,142.60 L156.63,142.34 L157.37,142.07 L158.11,141.80 L158.85,141.52 L159.59,141.23 L160.32,140.94 L161.06,140.64 L161.80,140.34 L162.54,140.03 L163.28,139.71 L164.02,139.39 L164.76,139.06 L165.50,138.73 L166.24,138.39 L166.98,138.04 L167.72,137.69 L168.45,137.34 L169.19,136.98 L169.93,136.62 L170.67,136.25 L171.41,135.87 L172.15,135.49 L172.89,135.11 L173.63,134.72 L174.37,134.33 L175.11,133.93 L175.85,133.53 L176.58,133.13 L177.32,132.72 L178.06,132.30 L178.80,131.89 L179.54,131.47 L180.28,131.04 L181.02,130.61 L181.76,130.18 L182.50,129.74 L183.24,129.30 L183.98,128.86 L184.72,128.42 L185.45,127.97 L186.19,127.51 L186.93,127.06 L187.67,126.60 L188.41,126.14 L189.15,125.67 L189.89,125.20 L190.63,124.73 L191.37,124.26 L192.11,123.78 L192.85,123.30 L193.58,122.82 L194.32,122.33 L195.06,121.85 L195.80,121.36 L196.54,120.86 L197.28,120.37 L198.02,119.87 L198.76,119.37 L199.50,118.87 L200.24,118.37 L200.98,117.86 L201.71,117.35 L202.45,116.84 L203.19,116.33 L203.93,115.81 L204.67,115.30 L205.41,114.78 L206.15,114.26 L206.89,113.73 L207.63,113.21 L208.37,112.68 L209.11,112.15 L209.84,111.62 L210.58,111.09 L211.32,110.55 L212.06,110.02 L212.80,109.48 L213.54,108.94 L214.28,108.40 L215.02,107.86 L215.76,107.31 L216.50,106.77 L217.24,106.22 L217.97,105.67 L218.71,105.12 L219.45,104.57 L220.19,104.02 L220.93,103.46 L221.67,102.91 L222.41,102.35 L223.15,101.79 L223.89,101.23 L224.63,100.67 L225.37,100.10 L226.10,99.54 L226.84,98.97 L227.58,98.41 L228.32,97.84 L229.06,97.27 L229.80,96.70 L230.54,96.13 L231.28,95.55 L232.02,94.98 L232.76,94.41 L233.50,93.83 L234.23,93.25 L234.97,92.67 L235.71,92.09 L236.45,91.51 L237.19,90.93 L237.93,90.35 L238.67,89.76 L239.41,89.18 L240.15,88.59 L240.89,88.01 L241.63,87.42 L242.36,86.83 L243.10,86.24 L243.84,85.65 L244.58,85.05 L245.32,84.46 L246.06,83.87 L246.80,83.27 L247.54,82.68 L248.28,82.08 L249.02,81.48 L249.76,80.89 L250.49,80.29 L251.23,79.69 L251.97,79.09 L252.71,78.48 L253.45,77.88 L254.19,77.28 L254.93,76.67 L255.67,76.07 L256.41,75.46 L257.15,74.86 L257.89,74.25 L258.62,73.64 L259.36,73.03 L260.10,72.42 L260.84,71.81 L261.58,71.20 L262.32,70.59 L263.06,69.98 L263.80,69.36 L264.54,68.75 L265.28,68.13 L266.02,67.52 L266.75,66.90 L267.49,66.29 L268.23,65.67 L268.97,65.05 L269.71,64.43 L270.45,63.81 L271.19,63.19 L271.93,62.57 L272.67,61.95 L273.41,61.33 L274.15,60.70 L274.88,60.08 L275.62,59.46 L276.36,58.83 L277.10,58.21 L277.84,57.58 L278.58,56.95 L279.32,56.33 L280.06,55.70 L280.80,55.07 L281.54,54.44 L282.28,53.81 L283.02,53.18 L283.75,52.55 L284.49,51.92 L285.23,51.29 L285.97,50.65 L286.71,50.02 L287.45,49.39 L288.19,48.75 L288.93,48.12 L289.67,47.48 L290.41,46.85 L291.15,46.21 L291.88,45.58 L292.62,44.94 L293.36,44.30 L294.10,43.66 L294.84,43.02 L295.58,42.38 L296.32,41.74 L297.06,41.10 L297.80,40.46 L298.54,39.82 L299.28,39.18 L300.01,38.54 L300.75,37.89 L301.49,37.25 L302.23,36.61 L302.97,35.96 L303.71,35.32 L304.45,34.67 L305.19,34.03 L305.93,33.38 L306.67,32.74 L307.41,32.09 L308.14,31.44 L308.88,30.79 L309.62,30.14 L310.36,29.50 L311.10,28.85 L311.84,28.20 L312.58,27.55 L313.32,26.90 L314.06,26.24 L314.80,25.59 L315.54,24.94 L316.27,24.29 L317.01,23.64 L317.75,22.98 L318.49,22.33 L319.23,21.68 L319.97,21.02 L320.71,20.37 L321.45,19.71 L322.19,19.05 L322.93,18.40 L323.67,17.74 L324.40,17.09 L325.14,16.43 L325.88,15.77 L326.62,15.11 L327.36,14.45 L328.10,13.79" stroke="#fff800" stroke-width="1.9" stroke-linecap="square" stroke-dasharray="3.85 3.85"/>
<path d="M33.20,131.97 L33.94,131.97 L34.68,131.97 L35.42,131.97 L36.16,131.96 L36.90,131.96 L37.63,131.95 L38.37,131.95 L39.11,131.94 L39.85,131.93 L40.59,131.92 L41.33,131.91 L42.07,131.90 L42.81,131.89 L43.55,131.87 L44.29,131.86 L45.03,131.84 L45.76,131.83 L46.50,131.81 L47.24,131.79 L47.98,131.77 L48.72,131.75 L49.46,131.73 L50.20,131.71 L50.94,131.68 L51.68,131.66 L52.42,131.63 L53.16,131.61 L53.89,131.58 L54.63,131.55 L55.37,131.52 L56.11,131.49 L56.85,131.46 L57.59,131.42 L58.33,131.39 L59.07,131.35 L59.81,131.32 L60.55,131.28 L61.29,131.24 L62.02,131.20 L62.76,131.16 L63.50,131.12 L64.24,131.07 L64.98,131.03 L65.72,130.99 L66.46,130.94 L67.20,130.89 L67.94,130.85 L68.68,130.80 L69.42,130.75 L70.15,130.71 L70.89,130.66 L71.63,130.62 L72.37,130.57 L73.11,130.53 L73.85,130.49 L74.59,130.45 L75.33,130.41 L76.07,130.38 L76.81,130.35 L77.55,130.32 L78.28,130.29 L79.02,130.27 L79.76,130.25 L80.50,130.24 L81.24,130.23 L81.98,130.23 L82.72,130.22 L83.46,130.23 L84.20,130.23 L84.94,130.24 L85.68,130.26 L86.42,130.28 L87.15,130.30 L87.89,130.33 L88.63,130.36 L89.37,130.40 L90.11,130.44 L90.85,130.48 L91.59,130.53 L92.33,130.58 L93.07,130.63 L93.81,130.69 L94.55,130.75 L95.28,130.81 L96.02,130.87 L96.76,130.94 L97.50,131.01 L98.24,131.08 L98.98,131.15 L99.72,131.23 L100.46,131.30 L101.20,131.38 L101.94,131.45 L102.68,131.53 L103.41,131.61 L104.15,131.69 L104.89,131.77 L105.63,131.85 L106.37,131.93 L107.11,132.00 L107.85,132.08 L108.59,132.16 L109.33,132.23 L110.07,132.31 L110.81,132.38 L111.54,132.45 L112.28,132.52 L113.02,132.59 L113.76,132.66 L114.50,132.72 L115.24,132.79 L115.98,132.84 L116.72,132.90 L117.46,132.96 L118.20,133.01 L118.94,133.06 L119.67,133.10 L120.41,133.15 L121.15,133.19 L121.89,133.22 L122.63,133.25 L123.37,133.28 L124.11,133.31 L124.85,133.33 L125.59,133.35 L126.33,133.36 L127.07,133.37 L127.80,133.37 L128.54,133.38 L129.28,133.37 L130.02,133.36 L130.76,133.35 L131.50,133.33 L132.24,133.31 L132.98,133.28 L133.72,133.25 L134.46,133.21 L135.20,133.17 L135.93,133.12 L136.67,133.07 L137.41,133.01 L138.15,132.95 L138.89,132.88 L139.63,132.81 L140.37,132.73 L141.11,132.65 L141.85,132.56 L142.59,132.47 L143.33,132.37 L144.06,132.26 L144.80,132.15 L145.54,132.03 L146.28,131.91 L147.02,131.78 L147.76,131.65 L148.50,131.51 L149.24,131.37 L149.98,131.22 L150.72,131.07 L151.46,130.90 L152.19,130.74 L152.93,130.57 L153.67,130.39 L154.41,130.21 L155.15,130.02 L155.89,129.83 L156.63,129.63 L157.37,129.43 L158.11,129.22 L158.85,129.00 L159.59,128.78 L160.32,128.56 L161.06,128.33 L161.80,128.09 L162.54,127.85 L163.28,127.61 L164.02,127.36 L164.76,127.10 L165.50,126.84 L166.24,126.58 L166.98,126.31 L167.72,126.03 L168.45,125.75 L169.19,125.47 L169.93,125.18 L170.67,124.89 L171.41,124.59 L172.15,124.28 L172.89,123.98 L173.63,123.66 L174.37,123.35 L175.11,123.03 L175.85,122.70 L176.58,122.37 L177.32,122.04 L178.06,121.70 L178.80,121.36 L179.54,121.01 L180.28,120.66 L181.02,120.31 L181.76,119.95 L182.50,119.59 L183.24,119.22 L183.98,118.86 L184.72,118.48 L185.45,118.11 L186.19,117.73 L186.93,117.34 L187.67,116.95 L188.41,116.56 L189.15,116.17 L189.89,115.77 L190.63,115.37 L191.37,114.96 L192.11,114.56 L192.85,114.15 L193.58,113.73 L194.32,113.31 L195.06,112.89 L195.80,112.47 L196.54,112.04 L197.28,111.61 L198.02,111.18 L198.76,110.75 L199.50,110.31 L200.24,109.87 L200.98,109.42 L201.71,108.98 L202.45,108.53 L203.19,108.07 L203.93,107.62 L204.67,107.16 L205.41,106.70 L206.15,106.24 L206.89,105.78 L207.63,105.31 L208.37,104.84 L209.11,104.37 L209.84,103.89 L210.58,103.42 L211.32,102.94 L212.06,102.46 L212.80,101.97 L213.54,101.49 L214.28,101.00 L215.02,100.51 L215.76,100.02 L216.50,99.52 L217.24,99.03 L217.97,98.53 L218.71,98.03 L219.45,97.53 L220.19,97.02 L220.93,96.51 L221.67,96.01 L222.41,95.50 L223.15,94.98 L223.89,94.47 L224.63,93.96 L225.37,93.44 L226.10,92.92 L226.84,92.40 L227.58,91.88 L228.32,91.35 L229.06,90.83 L229.80,90.30 L230.54,89.77 L231.28,89.24 L232.02,88.71 L232.76,88.17 L233.50,87.64 L234.23,87.10 L234.97,86.56 L235.71,86.02 L236.45,85.48 L237.19,84.94 L237.93,84.39 L238.67,83.85 L239.41,83.30 L240.15,82.75 L240.89,82.20 L241.63,81.65 L242.36,81.10 L243.10,80.54 L243.84,79.99 L244.58,79.43 L245.32,78.88 L246.06,78.32 L246.80,77.76 L247.54,77.19 L248.28,76.63 L249.02,76.07 L249.76,75.50 L250.49,74.94 L251.23,74.37 L251.97,73.80 L252.71,73.23 L253.45,72.66 L254.19,72.09 L254.93,71.51 L255.67,70.94 L256.41,70.36 L257.15,69.79 L257.89,69.21 L258.62,68.63 L259.36,68.05 L260.10,67.47 L260.84,66.89 L261.58,66.30 L262.32,65.72 L263.06,65.14 L263.80,64.55 L264.54,63.96 L265.28,63.38 L266.02,62.79 L266.75,62.20 L267.49,61.61 L268.23,61.02 L268.97,60.42 L269.71,59.83 L270.45,59.24 L271.19,58.64 L271.93,58.05 L272.67,57.45 L273.41,56.85 L274.15,56.25 L274.88,55.65 L275.62,55.05 L276.36,54.45 L277.10,53.85 L277.84,53.25 L278.58,52.64 L279.32,52.04 L280.06,51.43 L280.80,50.83 L281.54,50.22 L282.28,49.61 L283.02,49.01 L283.75,48.40 L284.49,47.79 L285.23,47.18 L285.97,46.57 L286.71,45.95 L287.45,45.34 L288.19,44.73 L288.93,44.11 L289.67,43.50 L290.41,42.88 L291.15,42.27 L291.88,41.65 L292.62,41.03 L293.36,40.41 L294.10,39.79 L294.84,39.17 L295.58,38.55 L296.32,37.93 L297.06,37.31 L297.80,36.69 L298.54,36.07 L299.28,35.44 L300.01,34.82 L300.75,34.19 L301.49,33.57 L302.23,32.94 L302.97,32.32 L303.71,31.69 L304.45,31.06 L305.19,30.43 L305.93,29.80 L306.67,29.17 L307.41,28.54 L308.14,27.91 L308.88,27.28 L309.62,26.65 L310.36,26.01 L311.10,25.38 L311.84,24.75 L312.58,24.11 L313.32,23.48 L314.06,22.84 L314.80,22.21 L315.54,21.57 L316.27,20.93 L317.01,20.29 L317.75,19.66 L318.49,19.02 L319.23,18.38 L319.97,17.74 L320.71,17.10 L321.45,16.46 L322.19,15.82 L322.93,15.17 L323.67,14.53 L324.40,13.89 L325.14,13.25 L325.88,12.60 L326.62,11.96 L327.36,11.31 L328.10,10.67" stroke="#fff800" stroke-width="1.9" stroke-linecap="square" stroke-dasharray="5.75 3.85 0.01 3.85"/>
<path d="M33.20,126.09 L33.94,126.09 L34.68,126.09 L35.42,126.09 L36.16,126.08 L36.90,126.08 L37.63,126.07 L38.37,126.07 L39.11,126.06 L39.85,126.05 L40.59,126.04 L41.33,126.02 L42.07,126.01 L42.81,126.00 L43.55,125.98 L44.29,125.96 L45.03,125.95 L45.76,125.93 L46.50,125.91 L47.24,125.88 L47.98,125.86 L48.72,125.84 L49.46,125.81 L50.20,125.79 L50.94,125.76 L51.68,125.73 L52.42,125.70 L53.16,125.67 L53.89,125.64 L54.63,125.60 L55.37,125.57 L56.11,125.53 L56.85,125.49 L57.59,125.45 L58.33,125.41 L59.07,125.37 L59.81,125.33 L60.55,125.29 L61.29,125.24 L62.02,125.19 L62.76,125.15 L63.50,125.10 L64.24,125.05 L64.98,124.99 L65.72,124.94 L66.46,124.89 L67.20,124.83 L67.94,124.77 L68.68,124.71 L69.42,124.65 L70.15,124.59 L70.89,124.53 L71.63,124.47 L72.37,124.41 L73.11,124.34 L73.85,124.28 L74.59,124.22 L75.33,124.15 L76.07,124.09 L76.81,124.02 L77.55,123.96 L78.28,123.90 L79.02,123.84 L79.76,123.78 L80.50,123.72 L81.24,123.66 L81.98,123.61 L82.72,123.55 L83.46,123.50 L84.20,123.45 L84.94,123.41 L85.68,123.36 L86.42,123.32 L87.15,123.28 L87.89,123.25 L88.63,123.22 L89.37,123.19 L90.11,123.16 L90.85,123.13 L91.59,123.11 L92.33,123.09 L93.07,123.08 L93.81,123.07 L94.55,123.06 L95.28,123.05 L96.02,123.04 L96.76,123.04 L97.50,123.04 L98.24,123.04 L98.98,123.05 L99.72,123.05 L100.46,123.06 L101.20,123.07 L101.94,123.08 L102.68,123.09 L103.41,123.11 L104.15,123.12 L104.89,123.14 L105.63,123.16 L106.37,123.17 L107.11,123.19 L107.85,123.21 L108.59,123.23 L109.33,123.25 L110.07,123.27 L110.81,123.29 L111.54,123.31 L112.28,123.32 L113.02,123.34 L113.76,123.36 L114.50,123.38 L115.24,123.39 L115.98,123.41 L116.72,123.42 L117.46,123.43 L118.20,123.44 L118.94,123.45 L119.67,123.46 L120.41,123.46 L121.15,123.47 L121.89,123.47 L122.63,123.47 L123.37,123.46 L124.11,123.46 L124.85,123.45 L125.59,123.44 L126.33,123.43 L127.07,123.41 L127.80,123.39 L128.54,123.37 L129.28,123.35 L130.02,123.32 L130.76,123.29 L131.50,123.25 L132.24,123.22 L132.98,123.18 L133.72,123.13 L134.46,123.08 L135.20,123.03 L135.93,122.98 L136.67,122.92 L137.41,122.86 L138.15,122.79 L138.89,122.72 L139.63,122.65 L140.37,122.57 L141.11,122.49 L141.85,122.40 L142.59,122.31 L143.33,122.22 L144.06,122.12 L144.80,122.02 L145.54,121.91 L146.28,121.80 L147.02,121.68 L147.76,121.57 L148.50,121.44 L149.24,121.31 L149.98,121.18 L150.72,121.04 L151.46,120.90 L152.19,120.76 L152.93,120.61 L153.67,120.45 L154.41,120.29 L155.15,120.13 L155.89,119.96 L156.63,119.79 L157.37,119.62 L158.11,119.43 L158.85,119.25 L159.59,119.06 L160.32,118.87 L161.06,118.67 L161.80,118.46 L162.54,118.26 L163.28,118.05 L164.02,117.83 L164.76,117.61 L165.50,117.38 L166.24,117.16 L166.98,116.92 L167.72,116.68 L168.45,116.44 L169.19,116.20 L169.93,115.95 L170.67,115.69 L171.41,115.43 L172.15,115.17 L172.89,114.90 L173.63,114.63 L174.37,114.36 L175.11,114.08 L175.85,113.80 L176.58,113.51 L177.32,113.22 L178.06,112.92 L178.80,112.63 L179.54,112.32 L180.28,112.02 L181.02,111.71 L181.76,111.39 L182.50,111.07 L183.24,110.75 L183.98,110.43 L184.72,110.10 L185.45,109.77 L186.19,109.43 L186.93,109.09 L187.67,108.75 L188.41,108.40 L189.15,108.05 L189.89,107.70 L190.63,107.34 L191.37,106.98 L192.11,106.62 L192.85,106.25 L193.58,105.88 L194.32,105.51 L195.06,105.13 L195.80,104.75 L196.54,104.37 L197.28,103.98 L198.02,103.59 L198.76,103.20 L199.50,102.81 L200.24,102.41 L200.98,102.01 L201.71,101.60 L202.45,101.20 L203.19,100.79 L203.93,100.38 L204.67,99.96 L205.41,99.54 L206.15,99.12 L206.89,98.70 L207.63,98.27 L208.37,97.85 L209.11,97.41 L209.84,96.98 L210.58,96.55 L211.32,96.11 L212.06,95.67 L212.80,95.22 L213.54,94.78 L214.28,94.33 L215.02,93.88 L215.76,93.42 L216.50,92.97 L217.24,92.51 L217.97,92.05 L218.71,91.59 L219.45,91.12 L220.19,90.66 L220.93,90.19 L221.67,89.72 L222.41,89.24 L223.15,88.77 L223.89,88.29 L224.63,87.81 L225.37,87.33 L226.10,86.85 L226.84,86.36 L227.58,85.87 L228.32,85.38 L229.06,84.89 L229.80,84.40 L230.54,83.90 L231.28,83.41 L232.02,82.91 L232.76,82.41 L233.50,81.91 L234.23,81.40 L234.97,80.90 L235.71,80.39 L236.45,79.88 L237.19,79.37 L237.93,78.85 L238.67,78.34 L239.41,77.82 L240.15,77.31 L240.89,76.79 L241.63,76.27 L242.36,75.74 L243.10,75.22 L243.84,74.69 L244.58,74.17 L245.32,73.64 L246.06,73.11 L246.80,72.58 L247.54,72.04 L248.28,71.51 L249.02,70.97 L249.76,70.44 L250.49,69.90 L251.23,69.36 L251.97,68.81 L252.71,68.27 L253.45,67.73 L254.19,67.18 L254.93,66.64 L255.67,66.09 L256.41,65.54 L257.15,64.99 L257.89,64.43 L258.62,63.88 L259.36,63.33 L260.10,62.77 L260.84,62.21 L261.58,61.66 L262.32,61.10 L263.06,60.54 L263.80,59.97 L264.54,59.41 L265.28,58.85 L266.02,58.28 L266.75,57.72 L267.49,57.15 L268.23,56.58 L268.97,56.01 L269.71,55.44 L270.45,54.87 L271.19,54.30 L271.93,53.72 L272.67,53.15 L273.41,52.57 L274.15,51.99 L274.88,51.42 L275.62,50.84 L276.36,50.26 L277.10,49.68 L277.84,49.09 L278.58,48.51 L279.32,47.93 L280.06,47.34 L280.80,46.76 L281.54,46.17 L282.28,45.58 L283.02,44.99 L283.75,44.40 L284.49,43.81 L285.23,43.22 L285.97,42.63 L286.71,42.04 L287.45,41.44 L288.19,40.85 L288.93,40.25 L289.67,39.66 L290.41,39.06 L291.15,38.46 L291.88,37.86 L292.62,37.26 L293.36,36.66 L294.10,36.06 L294.84,35.46 L295.58,34.85 L296.32,34.25 L297.06,33.64 L297.80,33.04 L298.54,32.43 L299.28,31.83 L300.01,31.22 L300.75,30.61 L301.49,30.00 L302.23,29.39 L302.97,28.78 L303.71,28.17 L304.45,27.56 L305.19,26.94 L305.93,26.33 L306.67,25.71 L307.41,25.10 L308.14,24.48 L308.88,23.87 L309.62,23.25 L310.36,22.63 L311.10,22.01 L311.84,21.39 L312.58,20.78 L313.32,20.15 L314.06,19.53 L314.80,18.91 L315.54,18.29 L316.27,17.67 L317.01,17.04 L317.75,16.42 L318.49,15.79 L319.23,15.17 L319.97,14.54 L320.71,13.91 L321.45,13.29 L322.19,12.66 L322.93,12.03 L323.67,11.40 L324.40,10.77 L325.14,10.14 L325.88,9.51 L326.62,8.88 L327.36,8.25 L328.10,7.61" stroke="#05f505" stroke-width="2.0" stroke-linecap="square"/>
<path d="M33.20,120.78 L33.94,120.78 L34.68,120.78 L35.42,120.78 L36.16,120.77 L36.90,120.77 L37.63,120.76 L38.37,120.75 L39.11,120.74 L39.85,120.73 L40.59,120.72 L41.33,120.71 L42.07,120.69 L42.81,120.67 L43.55,120.66 L44.29,120.64 L45.03,120.62 L45.76,120.60 L46.50,120.58 L47.24,120.55 L47.98,120.53 L48.72,120.50 L49.46,120.47 L50.20,120.45 L50.94,120.42 L51.68,120.38 L52.42,120.35 L53.16,120.32 L53.89,120.28 L54.63,120.24 L55.37,120.21 L56.11,120.17 L56.85,120.13 L57.59,120.08 L58.33,120.04 L59.07,120.00 L59.81,119.95 L60.55,119.90 L61.29,119.85 L62.02,119.80 L62.76,119.75 L63.50,119.70 L64.24,119.64 L64.98,119.59 L65.72,119.53 L66.46,119.47 L67.20,119.41 L67.94,119.35 L68.68,119.28 L69.42,119.22 L70.15,119.15 L70.89,119.08 L71.63,119.01 L72.37,118.94 L73.11,118.87 L73.85,118.80 L74.59,118.73 L75.33,118.65 L76.07,118.57 L76.81,118.50 L77.55,118.42 L78.28,118.34 L79.02,118.26 L79.76,118.18 L80.50,118.11 L81.24,118.03 L81.98,117.95 L82.72,117.87 L83.46,117.79 L84.20,117.72 L84.94,117.64 L85.68,117.56 L86.42,117.49 L87.15,117.42 L87.89,117.34 L88.63,117.27 L89.37,117.20 L90.11,117.14 L90.85,117.07 L91.59,117.01 L92.33,116.95 L93.07,116.89 L93.81,116.83 L94.55,116.77 L95.28,116.72 L96.02,116.67 L96.76,116.62 L97.50,116.57 L98.24,116.52 L98.98,116.48 L99.72,116.44 L100.46,116.40 L101.20,116.36 L101.94,116.32 L102.68,116.29 L103.41,116.25 L104.15,116.22 L104.89,116.19 L105.63,116.16 L106.37,116.13 L107.11,116.10 L107.85,116.08 L108.59,116.05 L109.33,116.03 L110.07,116.00 L110.81,115.98 L111.54,115.96 L112.28,115.93 L113.02,115.91 L113.76,115.89 L114.50,115.87 L115.24,115.84 L115.98,115.82 L116.72,115.80 L117.46,115.77 L118.20,115.75 L118.94,115.73 L119.67,115.70 L120.41,115.67 L121.15,115.64 L121.89,115.62 L122.63,115.59 L123.37,115.55 L124.11,115.52 L124.85,115.49 L125.59,115.45 L126.33,115.41 L127.07,115.38 L127.80,115.33 L128.54,115.29 L129.28,115.25 L130.02,115.20 L130.76,115.15 L131.50,115.10 L132.24,115.05 L132.98,114.99 L133.72,114.93 L134.46,114.87 L135.20,114.81 L135.93,114.74 L136.67,114.67 L137.41,114.60 L138.15,114.52 L138.89,114.44 L139.63,114.36 L140.37,114.28 L141.11,114.19 L141.85,114.10 L142.59,114.01 L143.33,113.91 L144.06,113.81 L144.80,113.71 L145.54,113.61 L146.28,113.50 L147.02,113.38 L147.76,113.27 L148.50,113.15 L149.24,113.02 L149.98,112.90 L150.72,112.77 L151.46,112.63 L152.19,112.49 L152.93,112.35 L153.67,112.21 L154.41,112.06 L155.15,111.91 L155.89,111.75 L156.63,111.59 L157.37,111.43 L158.11,111.26 L158.85,111.09 L159.59,110.92 L160.32,110.74 L161.06,110.56 L161.80,110.37 L162.54,110.18 L163.28,109.99 L164.02,109.79 L164.76,109.59 L165.50,109.38 L166.24,109.18 L166.98,108.96 L167.72,108.75 L168.45,108.53 L169.19,108.30 L169.93,108.08 L170.67,107.85 L171.41,107.61 L172.15,107.37 L172.89,107.13 L173.63,106.88 L174.37,106.64 L175.11,106.38 L175.85,106.13 L176.58,105.86 L177.32,105.60 L178.06,105.33 L178.80,105.06 L179.54,104.79 L180.28,104.51 L181.02,104.23 L181.76,103.94 L182.50,103.65 L183.24,103.36 L183.98,103.06 L184.72,102.76 L185.45,102.46 L186.19,102.16 L186.93,101.85 L187.67,101.53 L188.41,101.22 L189.15,100.90 L189.89,100.57 L190.63,100.25 L191.37,99.92 L192.11,99.59 L192.85,99.25 L193.58,98.91 L194.32,98.57 L195.06,98.22 L195.80,97.87 L196.54,97.52 L197.28,97.17 L198.02,96.81 L198.76,96.45 L199.50,96.09 L200.24,95.72 L200.98,95.35 L201.71,94.98 L202.45,94.60 L203.19,94.23 L203.93,93.84 L204.67,93.46 L205.41,93.07 L206.15,92.69 L206.89,92.29 L207.63,91.90 L208.37,91.50 L209.11,91.10 L209.84,90.70 L210.58,90.29 L211.32,89.88 L212.06,89.47 L212.80,89.06 L213.54,88.65 L214.28,88.23 L215.02,87.81 L215.76,87.38 L216.50,86.96 L217.24,86.53 L217.97,86.10 L218.71,85.67 L219.45,85.23 L220.19,84.80 L220.93,84.36 L221.67,83.91 L222.41,83.47 L223.15,83.02 L223.89,82.58 L224.63,82.13 L225.37,81.67 L226.10,81.22 L226.84,80.76 L227.58,80.30 L228.32,79.84 L229.06,79.38 L229.80,78.91 L230.54,78.44 L231.28,77.97 L232.02,77.50 L232.76,77.03 L233.50,76.55 L234.23,76.08 L234.97,75.60 L235.71,75.12 L236.45,74.63 L237.19,74.15 L237.93,73.66 L238.67,73.18 L239.41,72.68 L240.15,72.19 L240.89,71.70 L241.63,71.20 L242.36,70.71 L243.10,70.21 L243.84,69.71 L244.58,69.21 L245.32,68.70 L246.06,68.20 L246.80,67.69 L247.54,67.18 L248.28,66.67 L249.02,66.16 L249.76,65.64 L250.49,65.13 L251.23,64.61 L251.97,64.09 L252.71,63.57 L253.45,63.05 L254.19,62.53 L254.93,62.01 L255.67,61.48 L256.41,60.95 L257.15,60.43 L257.89,59.90 L258.62,59.36 L259.36,58.83 L260.10,58.30 L260.84,57.76 L261.58,57.23 L262.32,56.69 L263.06,56.15 L263.80,55.61 L264.54,55.07 L265.28,54.52 L266.02,53.98 L266.75,53.43 L267.49,52.88 L268.23,52.34 L268.97,51.79 L269.71,51.24 L270.45,50.68 L271.19,50.13 L271.93,49.58 L272.67,49.02 L273.41,48.46 L274.15,47.91 L274.88,47.35 L275.62,46.79 L276.36,46.23 L277.10,45.66 L277.84,45.10 L278.58,44.54 L279.32,43.97 L280.06,43.40 L280.80,42.84 L281.54,42.27 L282.28,41.70 L283.02,41.13 L283.75,40.55 L284.49,39.98 L285.23,39.41 L285.97,38.83 L286.71,38.26 L287.45,37.68 L288.19,37.10 L288.93,36.52 L289.67,35.94 L290.41,35.36 L291.15,34.78 L291.88,34.20 L292.62,33.61 L293.36,33.03 L294.10,32.44 L294.84,31.86 L295.58,31.27 L296.32,30.68 L297.06,30.09 L297.80,29.50 L298.54,28.91 L299.28,28.32 L300.01,27.73 L300.75,27.13 L301.49,26.54 L302.23,25.94 L302.97,25.35 L303.71,24.75 L304.45,24.15 L305.19,23.56 L305.93,22.96 L306.67,22.36 L307.41,21.76 L308.14,21.15 L308.88,20.55 L309.62,19.95 L310.36,19.34 L311.10,18.74 L311.84,18.13 L312.58,17.53 L313.32,16.92 L314.06,16.31 L314.80,15.70 L315.54,15.09 L316.27,14.48 L317.01,13.87 L317.75,13.26 L318.49,12.65 L319.23,12.04 L319.97,11.42 L320.71,10.81 L321.45,10.19 L322.19,9.58 L322.93,8.96 L323.67,8.35 L324.40,7.73 L325.14,7.11 L325.88,6.49 L326.62,5.87 L327.36,5.25 L328.10,4.63" stroke="#05f505" stroke-width="2.0" stroke-linecap="square" stroke-dasharray="3.85 3.85"/>
</g>
<rect x="27.3" y="1.4" width="306.7" height="183.9" fill="none" stroke="#1a1a1a" stroke-width="0.9"/>
<path d="M33.20,185.3 v-3.6 M33.20,1.4 v3.6 M43.03,185.3 v-2.1 M43.03,1.4 v2.1 M52.86,185.3 v-2.1 M52.86,1.4 v2.1 M62.69,185.3 v-2.1 M62.69,1.4 v2.1 M72.52,185.3 v-2.1 M72.52,1.4 v2.1 M82.35,185.3 v-3.6 M82.35,1.4 v3.6 M92.18,185.3 v-2.1 M92.18,1.4 v2.1 M102.01,185.3 v-2.1 M102.01,1.4 v2.1 M111.84,185.3 v-2.1 M111.84,1.4 v2.1 M121.67,185.3 v-2.1 M121.67,1.4 v2.1 M131.50,185.3 v-3.6 M131.50,1.4 v3.6 M141.33,185.3 v-2.1 M141.33,1.4 v2.1 M151.16,185.3 v-2.1 M151.16,1.4 v2.1 M160.99,185.3 v-2.1 M160.99,1.4 v2.1 M170.82,185.3 v-2.1 M170.82,1.4 v2.1 M180.65,185.3 v-3.6 M180.65,1.4 v3.6 M190.48,185.3 v-2.1 M190.48,1.4 v2.1 M200.31,185.3 v-2.1 M200.31,1.4 v2.1 M210.14,185.3 v-2.1 M210.14,1.4 v2.1 M219.97,185.3 v-2.1 M219.97,1.4 v2.1 M229.80,185.3 v-3.6 M229.80,1.4 v3.6 M239.63,185.3 v-2.1 M239.63,1.4 v2.1 M249.46,185.3 v-2.1 M249.46,1.4 v2.1 M259.29,185.3 v-2.1 M259.29,1.4 v2.1 M269.12,185.3 v-2.1 M269.12,1.4 v2.1 M278.95,185.3 v-3.6 M278.95,1.4 v3.6 M288.78,185.3 v-2.1 M288.78,1.4 v2.1 M298.61,185.3 v-2.1 M298.61,1.4 v2.1 M308.44,185.3 v-2.1 M308.44,1.4 v2.1 M318.27,185.3 v-2.1 M318.27,1.4 v2.1 M328.10,185.3 v-3.6 M328.10,1.4 v3.6 M27.3,181.75 h3.6 M334.0,181.75 h-3.6 M27.3,174.71 h2.1 M334.0,174.71 h-2.1 M27.3,167.67 h2.1 M334.0,167.67 h-2.1 M27.3,160.63 h2.1 M334.0,160.63 h-2.1 M27.3,153.59 h2.1 M334.0,153.59 h-2.1 M27.3,146.55 h3.6 M334.0,146.55 h-3.6 M27.3,139.51 h2.1 M334.0,139.51 h-2.1 M27.3,132.47 h2.1 M334.0,132.47 h-2.1 M27.3,125.43 h2.1 M334.0,125.43 h-2.1 M27.3,118.39 h2.1 M334.0,118.39 h-2.1 M27.3,111.35 h3.6 M334.0,111.35 h-3.6 M27.3,104.31 h2.1 M334.0,104.31 h-2.1 M27.3,97.27 h2.1 M334.0,97.27 h-2.1 M27.3,90.23 h2.1 M334.0,90.23 h-2.1 M27.3,83.19 h2.1 M334.0,83.19 h-2.1 M27.3,76.15 h3.6 M334.0,76.15 h-3.6 M27.3,69.11 h2.1 M334.0,69.11 h-2.1 M27.3,62.07 h2.1 M334.0,62.07 h-2.1 M27.3,55.03 h2.1 M334.0,55.03 h-2.1 M27.3,47.99 h2.1 M334.0,47.99 h-2.1 M27.3,40.95 h3.6 M334.0,40.95 h-3.6 M27.3,33.91 h2.1 M334.0,33.91 h-2.1 M27.3,26.87 h2.1 M334.0,26.87 h-2.1 M27.3,19.83 h2.1 M334.0,19.83 h-2.1 M27.3,12.79 h2.1 M334.0,12.79 h-2.1 M27.3,5.75 h3.6 M334.0,5.75 h-3.6" stroke="#1a1a1a" stroke-width="0.8" fill="none"/>
<g class="tl">
<text x="34.0" y="196.4" text-anchor="middle">0.0</text>
<text x="83.1" y="196.4" text-anchor="middle">0.5</text>
<text x="132.3" y="196.4" text-anchor="middle">1.0</text>
<text x="181.4" y="196.4" text-anchor="middle">1.5</text>
<text x="230.6" y="196.4" text-anchor="middle">2.0</text>
<text x="279.8" y="196.4" text-anchor="middle">2.5</text>
<text x="328.9" y="196.4" text-anchor="middle">3.0</text>
<text x="22.2" y="184.8" text-anchor="end">0</text>
<text x="22.2" y="149.6" text-anchor="end">1</text>
<text x="22.2" y="114.3" text-anchor="end">2</text>
<text x="22.2" y="79.1" text-anchor="end">3</text>
<text x="22.2" y="43.9" text-anchor="end">4</text>
<text x="22.2" y="8.8" text-anchor="end">5</text>
</g>
<text class="al" x="181.3" y="211.1" text-anchor="middle">q</text>
<text class="al" transform="translate(9.4,92.2) rotate(-90)" text-anchor="middle">R</text>
<rect x="39.2" y="13.2" width="171.7" height="70.3" rx="5" ry="5" fill="#fff" stroke="#000" stroke-width="1.4"/>
<g class="lg" font-size="8.7">
<line x1="44.4" y1="22.9" x2="61.2" y2="22.9" stroke="#000000" stroke-width="1.8"/>
<text x="66.3" y="25.7">m=0.25</text>
<line x1="44.4" y1="39.1" x2="61.2" y2="39.1" stroke="#000000" stroke-width="1.8"/>
<text x="66.3" y="41.9">m=0.5</text>
<line x1="44.4" y1="55.3" x2="61.2" y2="55.3" stroke="#000000" stroke-width="1.8"/>
<text x="66.3" y="58.1">m=0.75</text>
<line x1="44.4" y1="71.5" x2="61.2" y2="71.5" stroke="#ff0000" stroke-width="1.8"/>
<text x="66.3" y="74.3">m=1</text>
<line x1="102.4" y1="22.9" x2="119.2" y2="22.9" stroke="#ff0000" stroke-width="1.8"/>
<text x="124.3" y="25.7">m=1.02</text>
<line x1="102.4" y1="39.1" x2="119.2" y2="39.1" stroke="#ff0000" stroke-width="1.8"/>
<text x="124.3" y="41.9">m=1.1</text>
<line x1="102.4" y1="55.3" x2="119.2" y2="55.3" stroke="#fff800" stroke-width="1.8"/>
<text x="124.3" y="58.1">m=1.2</text>
<line x1="102.4" y1="71.5" x2="119.2" y2="71.5" stroke="#fff800" stroke-width="1.8"/>
<text x="124.3" y="74.3">m=1.5</text>
<line x1="160.6" y1="22.9" x2="177.4" y2="22.9" stroke="#fff800" stroke-width="1.8"/>
<text x="182.5" y="25.7">m=2</text>
<line x1="160.6" y1="39.1" x2="177.4" y2="39.1" stroke="#05f505" stroke-width="1.8"/>
<text x="182.5" y="41.9">m=2.5</text>
<line x1="160.6" y1="55.3" x2="177.4" y2="55.3" stroke="#05f505" stroke-width="1.8"/>
<text x="182.5" y="58.1">m=3</text>
</g>
<text class="cap" y="238.7"><tspan x="138.6" font-weight="bold">(a)</tspan><tspan x="162.4" font-style="italic" textLength="10.2" lengthAdjust="spacingAndGlyphs">R</tspan><tspan x="177.7">vs</tspan><tspan x="195.3" font-style="italic">q</tspan></text>
<clipPath id="clip379"><rect x="379.5" y="5.3" width="302.70000000000005" height="181.79999999999998"/></clipPath>
<g clip-path="url(#clip379)" fill="none" stroke-width="1.8" stroke-linejoin="round">
<path d="M385.30,163.41 L385.62,163.42 L385.93,163.42 L386.24,163.43 L386.55,163.44 L386.86,163.45 L387.17,163.46 L387.47,163.48 L387.78,163.50 L388.08,163.52 L388.38,163.55 L388.67,163.58 L388.97,163.61 L389.26,163.64 L389.55,163.67 L389.84,163.71 L390.13,163.75 L390.41,163.79 L390.69,163.83 L390.97,163.88 L391.25,163.93 L391.53,163.98 L391.80,164.03 L392.08,164.08 L392.35,164.14 L392.62,164.20 L392.88,164.26 L393.15,164.32 L393.41,164.38 L393.67,164.45 L393.93,164.51 L394.18,164.58 L394.44,164.65 L394.69,164.72 L394.94,164.80 L395.19,164.87 L395.44,164.95 L395.68,165.03 L395.93,165.11 L396.17,165.19 L396.40,165.28 L396.64,165.36 L396.88,165.45 L397.11,165.54 L397.34,165.63 L397.57,165.72 L397.80,165.81 L398.02,165.91 L398.24,166.00 L398.46,166.10 L398.68,166.20 L398.90,166.30 L399.11,166.40 L399.33,166.50 L399.54,166.61 L399.75,166.71 L399.95,166.82 L400.16,166.92 L400.36,167.03 L400.56,167.14 L400.76,167.26 L400.96,167.37 L401.15,167.48 L401.34,167.60 L401.53,167.71 L401.72,167.83 L401.91,167.95 L402.09,168.07 L402.28,168.19 L402.46,168.31 L402.64,168.44 L402.81,168.56 L402.99,168.69 L403.16,168.81 L403.33,168.94 L403.50,169.07 L403.67,169.20 L403.83,169.33 L403.99,169.46 L404.16,169.60 L404.31,169.73 L404.47,169.86 L404.63,170.00 L404.78,170.14 L404.93,170.28 L405.08,170.41 L405.23,170.55 L405.37,170.70 L405.51,170.84 L405.65,170.98 L405.79,171.12 L405.93,171.27 L406.06,171.42 L406.20,171.56 L406.33,171.71 L406.46,171.86 L406.58,172.01 L406.71,172.16 L406.83,172.31 L406.95,172.46 L407.07,172.61 L407.19,172.77 L407.30,172.92 L407.42,173.08 L407.53,173.24 L407.63,173.39 L407.74,173.55 L407.85,173.71 L407.95,173.87 L408.05,174.03 L408.15,174.19 L408.25,174.36 L408.34,174.52 L408.43,174.69 L408.52,174.85 L408.61,175.02 L408.70,175.18 L408.79,175.35 L408.87,175.52 L408.95,175.69 L409.03,175.86 L409.10,176.03 L409.18,176.21 L409.25,176.38 L409.32,176.56 L409.39,176.73 L409.46,176.91 L409.52,177.08 L409.59,177.26 L409.65,177.44 L409.71,177.62 L409.76,177.80 L409.82,177.98 L409.87,178.17 L409.92,178.35 L409.97,178.54 L410.02,178.72 L410.06,178.91 L410.11,179.10 L410.15,179.29 L410.19,179.47 L410.22,179.67 L410.26,179.86 L410.29,180.05 L410.32,180.24 L410.35,180.44 L410.38,180.64 L410.40,180.83 L410.43,181.03 L410.45,181.23 L410.47,181.43 L410.48,181.64 L410.50,181.84 L410.51,182.04 L410.52,182.25 L410.53,182.46 L410.54,182.67 L410.54,182.88 L410.55,183.09 L410.55,183.30" stroke="#000000" stroke-width="2.15" stroke-linecap="square"/>
<path d="M537.33,183.30 L537.34,182.59 L537.36,181.88 L537.38,181.18 L537.42,180.48 L537.47,179.78 L537.53,179.08 L537.60,178.38 L537.69,177.69 L537.78,177.00 L537.88,176.30 L538.00,175.61 L538.13,174.92 L538.26,174.23 L538.41,173.55 L538.57,172.86 L538.74,172.17 L538.92,171.48 L539.12,170.80 L539.32,170.11 L539.53,169.42 L539.76,168.73 L540.00,168.05 L540.24,167.36 L540.50,166.67 L540.77,165.98 L541.05,165.29 L541.34,164.60 L541.65,163.90 L541.96,163.21 L542.28,162.51 L542.62,161.81 L542.97,161.11 L543.32,160.41 L543.69,159.71 L544.07,159.00 L544.46,158.30 L544.86,157.59 L545.28,156.87 L545.70,156.16 L546.13,155.44 L546.58,154.72 L547.04,154.00 L547.50,153.27 L547.98,152.54 L548.47,151.81 L548.97,151.07 L549.48,150.33 L550.01,149.59 L550.54,148.84 L551.09,148.09 L551.64,147.33 L552.21,146.57 L552.78,145.81 L553.37,145.04 L553.97,144.27 L554.58,143.50 L555.21,142.72 L555.84,141.93 L556.48,141.14 L557.14,140.35 L557.80,139.55 L558.48,138.74 L559.17,137.93 L559.86,137.12 L560.57,136.30 L561.29,135.47 L562.03,134.64 L562.77,133.80 L563.52,132.96 L564.29,132.11 L565.06,131.26 L565.85,130.40 L566.65,129.53 L567.45,128.66 L568.27,127.78 L569.10,126.90 L569.95,126.01 L570.80,125.11 L571.66,124.21 L572.54,123.30 L573.42,122.38 L574.32,121.46 L575.23,120.53 L576.15,119.59 L577.07,118.65 L578.02,117.70 L578.97,116.74 L579.93,115.78 L580.90,114.80 L581.89,113.82 L582.88,112.84 L583.89,111.84 L584.91,110.84 L585.94,109.83 L586.98,108.81 L588.03,107.79 L589.09,106.76 L590.16,105.72 L591.24,104.67 L592.34,103.61 L593.44,102.55 L594.56,101.47 L595.69,100.39 L596.83,99.30 L597.98,98.21 L599.14,97.10 L600.31,95.99 L601.49,94.86 L602.68,93.73 L603.89,92.59 L605.10,91.45 L606.33,90.29 L607.57,89.12 L608.82,87.95 L610.08,86.76 L611.35,85.57 L612.63,84.37 L613.92,83.16 L615.23,81.94 L616.54,80.71 L617.87,79.47 L619.20,78.23 L620.55,76.97 L621.91,75.70 L623.28,74.43 L624.66,73.14 L626.05,71.85 L627.45,70.55 L628.87,69.23 L630.29,67.91 L631.73,66.58 L633.17,65.24 L634.63,63.88 L636.10,62.52 L637.58,61.15 L639.07,59.77 L640.57,58.37 L642.08,56.97 L643.61,55.56 L645.14,54.14 L646.69,52.71 L648.24,51.26 L649.81,49.81 L651.39,48.35 L652.98,46.87 L654.58,45.39 L656.19,43.90 L657.82,42.39 L659.45,40.88 L661.09,39.35 L662.75,37.81 L664.42,36.27 L666.09,34.71 L667.78,33.14 L669.48,31.56 L671.19,29.97 L672.91,28.37 L674.65,26.76 L676.39,25.14" stroke="#000000" stroke-width="2.15" stroke-linecap="square"/>
<path d="M385.30,155.18 L385.83,155.18 L386.35,155.19 L386.87,155.20 L387.38,155.21 L387.90,155.23 L388.40,155.25 L388.91,155.28 L389.41,155.31 L389.91,155.35 L390.41,155.39 L390.90,155.43 L391.39,155.48 L391.88,155.53 L392.36,155.58 L392.84,155.64 L393.31,155.70 L393.79,155.76 L394.25,155.83 L394.72,155.90 L395.18,155.97 L395.64,156.05 L396.10,156.13 L396.55,156.21 L397.00,156.30 L397.45,156.39 L397.89,156.48 L398.33,156.57 L398.77,156.67 L399.20,156.77 L399.63,156.87 L400.05,156.98 L400.48,157.08 L400.90,157.19 L401.31,157.31 L401.73,157.42 L402.14,157.54 L402.54,157.66 L402.94,157.78 L403.34,157.91 L403.74,158.04 L404.13,158.17 L404.52,158.30 L404.91,158.43 L405.29,158.57 L405.67,158.71 L406.05,158.85 L406.42,158.99 L406.79,159.13 L407.16,159.28 L407.52,159.43 L407.88,159.58 L408.24,159.73 L408.59,159.88 L408.94,160.04 L409.29,160.20 L409.63,160.36 L409.97,160.52 L410.31,160.68 L410.64,160.84 L410.97,161.01 L411.30,161.18 L411.62,161.35 L411.94,161.52 L412.26,161.69 L412.57,161.86 L412.88,162.04 L413.19,162.22 L413.49,162.40 L413.79,162.58 L414.09,162.76 L414.38,162.94 L414.67,163.12 L414.96,163.31 L415.24,163.50 L415.52,163.68 L415.80,163.87 L416.07,164.06 L416.34,164.26 L416.61,164.45 L416.87,164.64 L417.13,164.84 L417.39,165.04 L417.65,165.24 L417.90,165.43 L418.14,165.64 L418.39,165.84 L418.63,166.04 L418.86,166.24 L419.10,166.45 L419.33,166.65 L419.56,166.86 L419.78,167.07 L420.00,167.28 L420.22,167.49 L420.43,167.70 L420.64,167.91 L420.85,168.13 L421.05,168.34 L421.25,168.56 L421.45,168.77 L421.64,168.99 L421.84,169.21 L422.02,169.43 L422.21,169.65 L422.39,169.87 L422.57,170.09 L422.74,170.32 L422.91,170.54 L423.08,170.77 L423.24,170.99 L423.40,171.22 L423.56,171.45 L423.71,171.68 L423.87,171.91 L424.01,172.14 L424.16,172.37 L424.30,172.60 L424.44,172.84 L424.57,173.07 L424.70,173.31 L424.83,173.54 L424.95,173.78 L425.07,174.02 L425.19,174.26 L425.31,174.50 L425.42,174.74 L425.53,174.98 L425.63,175.23 L425.73,175.47 L425.83,175.72 L425.92,175.96 L426.01,176.21 L426.10,176.46 L426.19,176.71 L426.27,176.96 L426.35,177.21 L426.42,177.46 L426.49,177.71 L426.56,177.97 L426.62,178.22 L426.69,178.48 L426.74,178.74 L426.80,178.99 L426.85,179.25 L426.90,179.52 L426.94,179.78 L426.98,180.04 L427.02,180.30 L427.06,180.57 L427.09,180.84 L427.12,181.11 L427.14,181.38 L427.16,181.65 L427.18,181.92 L427.20,182.19 L427.21,182.47 L427.22,182.74 L427.22,183.02 L427.22,183.30" stroke="#000000" stroke-width="2.15" stroke-linecap="square" stroke-dasharray="3.85 3.85"/>
<path d="M527.76,183.30 L527.76,182.64 L527.78,181.99 L527.81,181.34 L527.85,180.69 L527.90,180.04 L527.97,179.39 L528.05,178.75 L528.13,178.10 L528.23,177.46 L528.34,176.82 L528.47,176.18 L528.60,175.54 L528.75,174.90 L528.91,174.26 L529.08,173.62 L529.26,172.98 L529.46,172.34 L529.66,171.69 L529.88,171.05 L530.11,170.41 L530.35,169.77 L530.60,169.12 L530.87,168.48 L531.14,167.83 L531.43,167.19 L531.73,166.54 L532.04,165.88 L532.37,165.23 L532.70,164.58 L533.05,163.92 L533.41,163.26 L533.78,162.60 L534.16,161.93 L534.55,161.27 L534.96,160.60 L535.38,159.92 L535.81,159.25 L536.25,158.57 L536.70,157.88 L537.16,157.20 L537.64,156.51 L538.13,155.81 L538.63,155.12 L539.14,154.42 L539.66,153.71 L540.20,153.00 L540.74,152.29 L541.30,151.57 L541.87,150.84 L542.46,150.12 L543.05,149.38 L543.65,148.65 L544.27,147.90 L544.90,147.16 L545.54,146.40 L546.19,145.64 L546.86,144.88 L547.53,144.11 L548.22,143.34 L548.92,142.56 L549.63,141.77 L550.36,140.98 L551.09,140.18 L551.84,139.37 L552.60,138.56 L553.37,137.74 L554.15,136.92 L554.94,136.09 L555.75,135.25 L556.57,134.41 L557.39,133.56 L558.23,132.70 L559.09,131.84 L559.95,130.97 L560.83,130.09 L561.72,129.20 L562.61,128.31 L563.53,127.41 L564.45,126.50 L565.38,125.58 L566.33,124.66 L567.29,123.73 L568.26,122.79 L569.24,121.84 L570.23,120.89 L571.24,119.93 L572.26,118.95 L573.29,117.97 L574.33,116.99 L575.38,115.99 L576.44,114.99 L577.52,113.97 L578.61,112.95 L579.71,111.92 L580.82,110.88 L581.94,109.84 L583.07,108.78 L584.22,107.71 L585.38,106.64 L586.55,105.56 L587.73,104.46 L588.92,103.36 L590.13,102.25 L591.35,101.13 L592.58,100.00 L593.82,98.86 L595.07,97.71 L596.33,96.55 L597.61,95.39 L598.90,94.21 L600.20,93.02 L601.51,91.82 L602.83,90.62 L604.16,89.40 L605.51,88.17 L606.87,86.94 L608.24,85.69 L609.62,84.43 L611.01,83.16 L612.42,81.89 L613.83,80.60 L615.26,79.30 L616.70,77.99 L618.16,76.67 L619.62,75.34 L621.10,74.00 L622.58,72.65 L624.08,71.29 L625.59,69.92 L627.12,68.53 L628.65,67.14 L630.20,65.74 L631.75,64.32 L633.32,62.89 L634.91,61.46 L636.50,60.01 L638.10,58.55 L639.72,57.08 L641.35,55.59 L642.99,54.10 L644.64,52.60 L646.31,51.08 L647.98,49.55 L649.67,48.01 L651.37,46.46 L653.08,44.90 L654.80,43.33 L656.54,41.74 L658.28,40.15 L660.04,38.54 L661.81,36.92 L663.59,35.29 L665.38,33.65 L667.19,31.99 L669.01,30.32 L670.83,28.64 L672.67,26.95 L674.53,25.25 L676.39,23.54" stroke="#000000" stroke-width="2.15" stroke-linecap="square" stroke-dasharray="3.85 3.85"/>
<path d="M385.30,148.86 L386.05,148.86 L386.80,148.87 L387.54,148.88 L388.28,148.91 L389.01,148.93 L389.74,148.97 L390.47,149.00 L391.19,149.05 L391.90,149.10 L392.61,149.15 L393.32,149.22 L394.02,149.28 L394.71,149.35 L395.40,149.43 L396.09,149.51 L396.77,149.59 L397.44,149.68 L398.12,149.78 L398.78,149.88 L399.45,149.98 L400.10,150.09 L400.76,150.20 L401.40,150.32 L402.05,150.44 L402.69,150.56 L403.32,150.69 L403.95,150.82 L404.57,150.96 L405.19,151.10 L405.81,151.24 L406.42,151.39 L407.02,151.54 L407.62,151.69 L408.22,151.85 L408.81,152.01 L409.39,152.17 L409.98,152.34 L410.55,152.51 L411.13,152.68 L411.69,152.86 L412.25,153.03 L412.81,153.22 L413.37,153.40 L413.91,153.59 L414.46,153.77 L415.00,153.97 L415.53,154.16 L416.06,154.36 L416.58,154.55 L417.10,154.76 L417.62,154.96 L418.13,155.16 L418.63,155.37 L419.14,155.58 L419.63,155.79 L420.12,156.01 L420.61,156.22 L421.09,156.44 L421.57,156.66 L422.04,156.88 L422.51,157.10 L422.97,157.33 L423.43,157.55 L423.88,157.78 L424.33,158.01 L424.77,158.24 L425.21,158.47 L425.65,158.71 L426.08,158.94 L426.50,159.18 L426.92,159.42 L427.34,159.66 L427.75,159.90 L428.15,160.14 L428.56,160.38 L428.95,160.63 L429.34,160.87 L429.73,161.12 L430.11,161.37 L430.49,161.61 L430.86,161.86 L431.23,162.11 L431.59,162.36 L431.95,162.62 L432.31,162.87 L432.65,163.12 L433.00,163.38 L433.34,163.63 L433.67,163.89 L434.00,164.15 L434.33,164.40 L434.65,164.66 L434.96,164.92 L435.27,165.18 L435.58,165.44 L435.88,165.70 L436.18,165.97 L436.47,166.23 L436.76,166.49 L437.04,166.75 L437.32,167.02 L437.59,167.28 L437.86,167.55 L438.12,167.82 L438.38,168.08 L438.64,168.35 L438.88,168.62 L439.13,168.88 L439.37,169.15 L439.60,169.42 L439.83,169.69 L440.06,169.96 L440.28,170.23 L440.50,170.50 L440.71,170.77 L440.91,171.05 L441.12,171.32 L441.31,171.59 L441.50,171.86 L441.69,172.14 L441.87,172.41 L442.05,172.69 L442.23,172.96 L442.39,173.24 L442.56,173.51 L442.72,173.79 L442.87,174.07 L443.02,174.35 L443.17,174.62 L443.31,174.90 L443.44,175.18 L443.57,175.46 L443.70,175.74 L443.82,176.02 L443.94,176.31 L444.05,176.59 L444.15,176.87 L444.26,177.15 L444.35,177.44 L444.45,177.72 L444.53,178.01 L444.62,178.30 L444.69,178.58 L444.77,178.87 L444.84,179.16 L444.90,179.45 L444.96,179.74 L445.01,180.03 L445.06,180.32 L445.11,180.62 L445.15,180.91 L445.19,181.21 L445.22,181.50 L445.24,181.80 L445.26,182.10 L445.28,182.40 L445.29,182.70 L445.30,183.00 L445.30,183.30" stroke="#000000" stroke-width="2.15" stroke-linecap="square" stroke-dasharray="5.75 3.85 0.01 3.85"/>
<path d="M514.98,183.30 L514.99,182.73 L515.01,182.17 L515.04,181.60 L515.08,181.04 L515.14,180.48 L515.21,179.92 L515.29,179.36 L515.39,178.80 L515.50,178.24 L515.62,177.68 L515.75,177.13 L515.90,176.57 L516.06,176.01 L516.23,175.45 L516.42,174.89 L516.62,174.33 L516.83,173.77 L517.05,173.20 L517.29,172.64 L517.54,172.07 L517.80,171.50 L518.07,170.93 L518.36,170.36 L518.66,169.78 L518.97,169.20 L519.30,168.62 L519.64,168.04 L519.99,167.45 L520.35,166.86 L520.73,166.27 L521.12,165.67 L521.52,165.07 L521.93,164.47 L522.36,163.86 L522.80,163.25 L523.26,162.63 L523.72,162.01 L524.20,161.39 L524.69,160.76 L525.20,160.12 L525.71,159.48 L526.24,158.84 L526.79,158.19 L527.34,157.53 L527.91,156.87 L528.49,156.20 L529.09,155.53 L529.69,154.85 L530.31,154.17 L530.94,153.48 L531.59,152.78 L532.25,152.08 L532.92,151.37 L533.60,150.65 L534.30,149.93 L535.00,149.20 L535.73,148.47 L536.46,147.72 L537.21,146.97 L537.97,146.21 L538.74,145.45 L539.52,144.68 L540.32,143.90 L541.13,143.11 L541.96,142.31 L542.79,141.51 L543.64,140.70 L544.50,139.88 L545.38,139.05 L546.27,138.22 L547.17,137.37 L548.08,136.52 L549.01,135.66 L549.94,134.79 L550.90,133.91 L551.86,133.02 L552.84,132.13 L553.83,131.22 L554.83,130.31 L555.84,129.38 L556.87,128.45 L557.91,127.51 L558.97,126.56 L560.03,125.60 L561.11,124.63 L562.20,123.65 L563.31,122.66 L564.42,121.66 L565.55,120.65 L566.70,119.64 L567.85,118.61 L569.02,117.57 L570.20,116.52 L571.40,115.46 L572.60,114.39 L573.82,113.31 L575.05,112.22 L576.30,111.12 L577.56,110.01 L578.83,108.89 L580.11,107.76 L581.41,106.62 L582.72,105.46 L584.04,104.30 L585.37,103.12 L586.72,101.94 L588.08,100.74 L589.45,99.53 L590.84,98.31 L592.24,97.08 L593.65,95.84 L595.07,94.59 L596.51,93.32 L597.96,92.05 L599.42,90.76 L600.89,89.46 L602.38,88.15 L603.88,86.83 L605.39,85.49 L606.92,84.15 L608.46,82.79 L610.01,81.42 L611.57,80.04 L613.15,78.64 L614.74,77.24 L616.34,75.82 L617.96,74.39 L619.59,72.95 L621.23,71.49 L622.88,70.03 L624.55,68.55 L626.23,67.06 L627.92,65.55 L629.62,64.04 L631.34,62.51 L633.07,60.97 L634.81,59.41 L636.57,57.85 L638.34,56.27 L640.12,54.68 L641.91,53.07 L643.72,51.46 L645.54,49.82 L647.37,48.18 L649.22,46.53 L651.08,44.86 L652.95,43.17 L654.83,41.48 L656.73,39.77 L658.63,38.05 L660.56,36.31 L662.49,34.57 L664.44,32.80 L666.40,31.03 L668.37,29.24 L670.36,27.44 L672.35,25.63 L674.37,23.80 L676.39,21.96" stroke="#000000" stroke-width="2.15" stroke-linecap="square" stroke-dasharray="5.75 3.85 0.01 3.85"/>
<path d="M385.30,143.53 L385.95,143.53 L386.60,143.53 L387.25,143.54 L387.90,143.56 L388.56,143.57 L389.21,143.59 L389.86,143.61 L390.51,143.64 L391.16,143.67 L391.81,143.71 L392.46,143.74 L393.11,143.79 L393.77,143.83 L394.42,143.88 L395.07,143.93 L395.72,143.99 L396.37,144.04 L397.02,144.11 L397.67,144.17 L398.32,144.24 L398.98,144.32 L399.63,144.39 L400.28,144.47 L400.93,144.56 L401.58,144.65 L402.23,144.74 L402.88,144.83 L403.53,144.93 L404.19,145.03 L404.84,145.14 L405.49,145.25 L406.14,145.36 L406.79,145.48 L407.44,145.60 L408.09,145.72 L408.74,145.85 L409.39,145.98 L410.05,146.11 L410.70,146.25 L411.35,146.39 L412.00,146.54 L412.65,146.69 L413.30,146.84 L413.95,147.00 L414.60,147.15 L415.26,147.32 L415.91,147.48 L416.56,147.65 L417.21,147.83 L417.86,148.01 L418.51,148.19 L419.16,148.37 L419.81,148.56 L420.47,148.75 L421.12,148.95 L421.77,149.15 L422.42,149.35 L423.07,149.55 L423.72,149.76 L424.37,149.98 L425.02,150.19 L425.67,150.41 L426.33,150.64 L426.98,150.87 L427.63,151.10 L428.28,151.33 L428.93,151.57 L429.58,151.81 L430.23,152.06 L430.88,152.31 L431.54,152.56 L432.19,152.81 L432.84,153.07 L433.49,153.34 L434.14,153.60 L434.79,153.87 L435.44,154.15 L436.09,154.43 L436.75,154.71 L437.40,154.99 L438.05,155.28 L438.70,155.57 L439.35,155.87 L440.00,156.17 L440.65,156.47 L441.30,156.78 L441.96,157.09 L442.61,157.40 L443.26,157.72 L443.91,158.04 L444.56,158.36 L445.21,158.69 L445.86,159.02 L446.51,159.36 L447.16,159.70 L447.82,160.04 L448.47,160.38 L449.12,160.73 L449.77,161.09 L450.42,161.44 L451.07,161.80 L451.72,162.17 L452.37,162.53 L453.03,162.90 L453.68,163.28 L454.33,163.66 L454.98,164.04 L455.63,164.42 L456.28,164.81 L456.93,165.20 L457.58,165.60 L458.24,166.00 L458.89,166.40 L459.54,166.81 L460.19,167.22 L460.84,167.63 L461.49,168.05 L462.14,168.47 L462.79,168.90 L463.44,169.32 L464.10,169.76 L464.75,170.19 L465.40,170.63 L466.05,171.07 L466.70,171.52 L467.35,171.97 L468.00,172.42 L468.65,172.88 L469.31,173.34 L469.96,173.80 L470.61,174.27 L471.26,174.74 L471.91,175.22 L472.56,175.70 L473.21,176.18 L473.86,176.66 L474.52,177.15 L475.17,177.64 L475.82,178.14 L476.47,178.64 L477.12,179.14 L477.77,179.65 L478.42,180.16 L479.07,180.68 L479.73,181.19 L480.38,181.71 L481.03,182.24 L481.68,182.77 L482.33,183.30 L483.08,182.69 L483.83,182.07 L484.58,181.46 L485.33,180.85 L486.08,180.25 L486.83,179.64 L487.57,179.03 L488.32,178.43 L489.07,177.83 L489.82,177.22 L490.57,176.62 L491.32,176.02 L492.07,175.42 L492.82,174.82 L493.57,174.22 L494.32,173.62 L495.07,173.02 L495.82,172.42 L496.57,171.83 L497.32,171.23 L498.06,170.63 L498.81,170.04 L499.56,169.44 L500.31,168.84 L501.06,168.25 L501.81,167.65 L502.56,167.06 L503.31,166.46 L504.06,165.87 L504.81,165.27 L505.56,164.68 L506.31,164.08 L507.06,163.49 L507.81,162.90 L508.55,162.30 L509.30,161.71 L510.05,161.11 L510.80,160.52 L511.55,159.92 L512.30,159.33 L513.05,158.73 L513.80,158.14 L514.55,157.54 L515.30,156.95 L516.05,156.35 L516.80,155.75 L517.55,155.16 L518.29,154.56 L519.04,153.97 L519.79,153.37 L520.54,152.77 L521.29,152.18 L522.04,151.58 L522.79,150.98 L523.54,150.38 L524.29,149.79 L525.04,149.19 L525.79,148.59 L526.54,147.99 L527.29,147.39 L528.04,146.79 L528.78,146.19 L529.53,145.59 L530.28,144.99 L531.03,144.39 L531.78,143.79 L532.53,143.19 L533.28,142.59 L534.03,141.98 L534.78,141.38 L535.53,140.78 L536.28,140.18 L537.03,139.57 L537.78,138.97 L538.52,138.36 L539.27,137.76 L540.02,137.15 L540.77,136.55 L541.52,135.94 L542.27,135.34 L543.02,134.73 L543.77,134.12 L544.52,133.52 L545.27,132.91 L546.02,132.30 L546.77,131.69 L547.52,131.08 L548.27,130.47 L549.01,129.86 L549.76,129.25 L550.51,128.64 L551.26,128.03 L552.01,127.42 L552.76,126.81 L553.51,126.20 L554.26,125.59 L555.01,124.97 L555.76,124.36 L556.51,123.75 L557.26,123.13 L558.01,122.52 L558.76,121.90 L559.50,121.29 L560.25,120.67 L561.00,120.05 L561.75,119.44 L562.50,118.82 L563.25,118.20 L564.00,117.59 L564.75,116.97 L565.50,116.35 L566.25,115.73 L567.00,115.11 L567.75,114.49 L568.50,113.87 L569.24,113.25 L569.99,112.63 L570.74,112.00 L571.49,111.38 L572.24,110.76 L572.99,110.14 L573.74,109.51 L574.49,108.89 L575.24,108.27 L575.99,107.64 L576.74,107.02 L577.49,106.39 L578.24,105.76 L578.99,105.14 L579.73,104.51 L580.48,103.88 L581.23,103.26 L581.98,102.63 L582.73,102.00 L583.48,101.37 L584.23,100.74 L584.98,100.11 L585.73,99.48 L586.48,98.85 L587.23,98.22 L587.98,97.59 L588.73,96.96 L589.48,96.33 L590.22,95.69 L590.97,95.06 L591.72,94.43 L592.47,93.79 L593.22,93.16 L593.97,92.52 L594.72,91.89 L595.47,91.25 L596.22,90.62 L596.97,89.98 L597.72,89.35 L598.47,88.71 L599.22,88.07 L599.96,87.43 L600.71,86.79 L601.46,86.16 L602.21,85.52 L602.96,84.88 L603.71,84.24 L604.46,83.60 L605.21,82.96 L605.96,82.32 L606.71,81.67 L607.46,81.03 L608.21,80.39 L608.96,79.75 L609.71,79.10 L610.45,78.46 L611.20,77.82 L611.95,77.17 L612.70,76.53 L613.45,75.88 L614.20,75.24 L614.95,74.59 L615.70,73.95 L616.45,73.30 L617.20,72.65 L617.95,72.01 L618.70,71.36 L619.45,70.71 L620.20,70.06 L620.94,69.41 L621.69,68.76 L622.44,68.11 L623.19,67.46 L623.94,66.81 L624.69,66.16 L625.44,65.51 L626.19,64.86 L626.94,64.21 L627.69,63.56 L628.44,62.90 L629.19,62.25 L629.94,61.60 L630.68,60.94 L631.43,60.29 L632.18,59.63 L632.93,58.98 L633.68,58.32 L634.43,57.67 L635.18,57.01 L635.93,56.36 L636.68,55.70 L637.43,55.04 L638.18,54.38 L638.93,53.73 L639.68,53.07 L640.43,52.41 L641.17,51.75 L641.92,51.09 L642.67,50.43 L643.42,49.77 L644.17,49.11 L644.92,48.45 L645.67,47.79 L646.42,47.13 L647.17,46.47 L647.92,45.81 L648.67,45.14 L649.42,44.48 L650.17,43.82 L650.91,43.15 L651.66,42.49 L652.41,41.83 L653.16,41.16 L653.91,40.50 L654.66,39.83 L655.41,39.17 L656.16,38.50 L656.91,37.83 L657.66,37.17 L658.41,36.50 L659.16,35.83 L659.91,35.17 L660.66,34.50 L661.40,33.83 L662.15,33.16 L662.90,32.49 L663.65,31.82 L664.40,31.15 L665.15,30.48 L665.90,29.81 L666.65,29.14 L667.40,28.47 L668.15,27.80 L668.90,27.13 L669.65,26.46 L670.40,25.78 L671.15,25.11 L671.89,24.44 L672.64,23.76 L673.39,23.09 L674.14,22.42 L674.89,21.74 L675.64,21.07 L676.39,20.39" stroke="#ff0000" stroke-width="2.0" stroke-linecap="square"/>
<path d="M385.30,143.13 L386.03,143.13 L386.76,143.14 L387.49,143.15 L388.22,143.17 L388.95,143.19 L389.68,143.21 L390.41,143.24 L391.14,143.27 L391.87,143.31 L392.60,143.35 L393.33,143.40 L394.05,143.45 L394.78,143.50 L395.51,143.56 L396.24,143.63 L396.97,143.70 L397.70,143.77 L398.43,143.85 L399.16,143.93 L399.89,144.01 L400.62,144.10 L401.35,144.20 L402.08,144.30 L402.81,144.40 L403.54,144.51 L404.27,144.62 L405.00,144.74 L405.73,144.86 L406.46,144.98 L407.19,145.11 L407.92,145.25 L408.65,145.39 L409.38,145.53 L410.10,145.68 L410.83,145.83 L411.56,145.98 L412.29,146.14 L413.02,146.31 L413.75,146.48 L414.48,146.65 L415.21,146.83 L415.94,147.01 L416.67,147.20 L417.40,147.39 L418.13,147.58 L418.86,147.78 L419.59,147.99 L420.32,148.20 L421.05,148.41 L421.78,148.62 L422.51,148.85 L423.24,149.07 L423.97,149.30 L424.70,149.53 L425.43,149.77 L426.15,150.02 L426.88,150.26 L427.61,150.51 L428.34,150.77 L429.07,151.03 L429.80,151.29 L430.53,151.56 L431.26,151.83 L431.99,152.11 L432.72,152.39 L433.45,152.67 L434.18,152.96 L434.91,153.25 L435.64,153.55 L436.37,153.85 L437.10,154.16 L437.83,154.47 L438.56,154.78 L439.29,155.10 L440.02,155.42 L440.75,155.74 L441.48,156.07 L442.20,156.41 L442.93,156.74 L443.66,157.09 L444.39,157.43 L445.12,157.78 L445.85,158.13 L446.58,158.49 L447.31,158.85 L448.04,159.21 L448.77,159.58 L449.50,159.95 L450.23,160.32 L450.96,160.70 L451.69,161.08 L452.42,161.47 L453.15,161.85 L453.88,162.24 L454.61,162.64 L455.34,163.03 L456.07,163.43 L456.80,163.83 L457.53,164.24 L458.25,164.64 L458.98,165.05 L459.71,165.46 L460.44,165.88 L461.17,166.29 L461.90,166.71 L462.63,167.12 L463.36,167.54 L464.09,167.96 L464.82,168.37 L465.55,168.79 L466.28,169.20 L467.01,169.62 L467.74,170.03 L468.47,170.44 L469.20,170.84 L469.93,171.24 L470.66,171.64 L471.39,172.02 L472.12,172.40 L472.85,172.77 L473.58,173.12 L474.30,173.47 L475.03,173.79 L475.76,174.10 L476.49,174.39 L477.22,174.65 L477.95,174.89 L478.68,175.10 L479.41,175.27 L480.14,175.41 L480.87,175.51 L481.60,175.57 L482.33,175.59 L483.06,175.57 L483.79,175.50 L484.52,175.40 L485.25,175.25 L485.98,175.06 L486.71,174.84 L487.44,174.59 L488.17,174.31 L488.90,173.99 L489.63,173.66 L490.36,173.30 L491.08,172.92 L491.81,172.52 L492.54,172.11 L493.27,171.68 L494.00,171.24 L494.73,170.79 L495.46,170.33 L496.19,169.86 L496.92,169.38 L497.65,168.89 L498.38,168.40 L499.11,167.90 L499.84,167.40 L500.57,166.89 L501.30,166.37 L502.03,165.86 L502.76,165.34 L503.49,164.81 L504.22,164.28 L504.95,163.75 L505.68,163.22 L506.41,162.68 L507.13,162.14 L507.86,161.60 L508.59,161.06 L509.32,160.52 L510.05,159.97 L510.78,159.42 L511.51,158.87 L512.24,158.32 L512.97,157.77 L513.70,157.21 L514.43,156.66 L515.16,156.10 L515.89,155.55 L516.62,154.99 L517.35,154.43 L518.08,153.87 L518.81,153.31 L519.54,152.74 L520.27,152.18 L521.00,151.62 L521.73,151.05 L522.46,150.49 L523.18,149.92 L523.91,149.35 L524.64,148.78 L525.37,148.21 L526.10,147.64 L526.83,147.07 L527.56,146.50 L528.29,145.93 L529.02,145.36 L529.75,144.78 L530.48,144.21 L531.21,143.64 L531.94,143.06 L532.67,142.48 L533.40,141.91 L534.13,141.33 L534.86,140.75 L535.59,140.18 L536.32,139.60 L537.05,139.02 L537.78,138.44 L538.51,137.86 L539.23,137.28 L539.96,136.69 L540.69,136.11 L541.42,135.53 L542.15,134.95 L542.88,134.36 L543.61,133.78 L544.34,133.19 L545.07,132.61 L545.80,132.02 L546.53,131.44 L547.26,130.85 L547.99,130.26 L548.72,129.67 L549.45,129.08 L550.18,128.50 L550.91,127.91 L551.64,127.32 L552.37,126.73 L553.10,126.13 L553.83,125.54 L554.56,124.95 L555.28,124.36 L556.01,123.77 L556.74,123.17 L557.47,122.58 L558.20,121.98 L558.93,121.39 L559.66,120.79 L560.39,120.20 L561.12,119.60 L561.85,119.01 L562.58,118.41 L563.31,117.81 L564.04,117.21 L564.77,116.61 L565.50,116.01 L566.23,115.42 L566.96,114.82 L567.69,114.21 L568.42,113.61 L569.15,113.01 L569.88,112.41 L570.61,111.81 L571.33,111.21 L572.06,110.60 L572.79,110.00 L573.52,109.39 L574.25,108.79 L574.98,108.19 L575.71,107.58 L576.44,106.97 L577.17,106.37 L577.90,105.76 L578.63,105.15 L579.36,104.55 L580.09,103.94 L580.82,103.33 L581.55,102.72 L582.28,102.11 L583.01,101.50 L583.74,100.89 L584.47,100.28 L585.20,99.67 L585.93,99.06 L586.66,98.45 L587.39,97.83 L588.11,97.22 L588.84,96.61 L589.57,95.99 L590.30,95.38 L591.03,94.77 L591.76,94.15 L592.49,93.54 L593.22,92.92 L593.95,92.30 L594.68,91.69 L595.41,91.07 L596.14,90.45 L596.87,89.84 L597.60,89.22 L598.33,88.60 L599.06,87.98 L599.79,87.36 L600.52,86.74 L601.25,86.12 L601.98,85.50 L602.71,84.88 L603.44,84.26 L604.16,83.64 L604.89,83.01 L605.62,82.39 L606.35,81.77 L607.08,81.15 L607.81,80.52 L608.54,79.90 L609.27,79.27 L610.00,78.65 L610.73,78.02 L611.46,77.40 L612.19,76.77 L612.92,76.14 L613.65,75.52 L614.38,74.89 L615.11,74.26 L615.84,73.63 L616.57,73.01 L617.30,72.38 L618.03,71.75 L618.76,71.12 L619.49,70.49 L620.21,69.86 L620.94,69.23 L621.67,68.60 L622.40,67.97 L623.13,67.33 L623.86,66.70 L624.59,66.07 L625.32,65.44 L626.05,64.80 L626.78,64.17 L627.51,63.54 L628.24,62.90 L628.97,62.27 L629.70,61.63 L630.43,61.00 L631.16,60.36 L631.89,59.72 L632.62,59.09 L633.35,58.45 L634.08,57.81 L634.81,57.18 L635.54,56.54 L636.26,55.90 L636.99,55.26 L637.72,54.62 L638.45,53.98 L639.18,53.34 L639.91,52.70 L640.64,52.06 L641.37,51.42 L642.10,50.78 L642.83,50.14 L643.56,49.50 L644.29,48.85 L645.02,48.21 L645.75,47.57 L646.48,46.93 L647.21,46.28 L647.94,45.64 L648.67,44.99 L649.40,44.35 L650.13,43.71 L650.86,43.06 L651.59,42.41 L652.31,41.77 L653.04,41.12 L653.77,40.48 L654.50,39.83 L655.23,39.18 L655.96,38.53 L656.69,37.89 L657.42,37.24 L658.15,36.59 L658.88,35.94 L659.61,35.29 L660.34,34.64 L661.07,33.99 L661.80,33.34 L662.53,32.69 L663.26,32.04 L663.99,31.39 L664.72,30.74 L665.45,30.09 L666.18,29.43 L666.91,28.78 L667.64,28.13 L668.36,27.47 L669.09,26.82 L669.82,26.17 L670.55,25.51 L671.28,24.86 L672.01,24.20 L672.74,23.55 L673.47,22.89 L674.20,22.24 L674.93,21.58 L675.66,20.93 L676.39,20.27" stroke="#ff0000" stroke-width="2.0" stroke-linecap="square" stroke-dasharray="3.85 3.85"/>
<path d="M385.30,141.59 L386.03,141.59 L386.76,141.59 L387.49,141.60 L388.22,141.62 L388.95,141.64 L389.68,141.66 L390.41,141.69 L391.14,141.72 L391.87,141.75 L392.60,141.79 L393.33,141.83 L394.05,141.88 L394.78,141.93 L395.51,141.99 L396.24,142.04 L396.97,142.11 L397.70,142.18 L398.43,142.25 L399.16,142.32 L399.89,142.40 L400.62,142.48 L401.35,142.57 L402.08,142.66 L402.81,142.76 L403.54,142.86 L404.27,142.96 L405.00,143.07 L405.73,143.18 L406.46,143.30 L407.19,143.41 L407.92,143.54 L408.65,143.67 L409.38,143.80 L410.10,143.93 L410.83,144.07 L411.56,144.21 L412.29,144.36 L413.02,144.51 L413.75,144.67 L414.48,144.82 L415.21,144.99 L415.94,145.15 L416.67,145.32 L417.40,145.50 L418.13,145.67 L418.86,145.85 L419.59,146.04 L420.32,146.23 L421.05,146.42 L421.78,146.62 L422.51,146.82 L423.24,147.02 L423.97,147.23 L424.70,147.44 L425.43,147.65 L426.15,147.87 L426.88,148.09 L427.61,148.31 L428.34,148.54 L429.07,148.77 L429.80,149.01 L430.53,149.25 L431.26,149.49 L431.99,149.73 L432.72,149.98 L433.45,150.23 L434.18,150.49 L434.91,150.74 L435.64,151.00 L436.37,151.27 L437.10,151.53 L437.83,151.80 L438.56,152.07 L439.29,152.35 L440.02,152.62 L440.75,152.90 L441.48,153.19 L442.20,153.47 L442.93,153.76 L443.66,154.05 L444.39,154.34 L445.12,154.63 L445.85,154.93 L446.58,155.22 L447.31,155.52 L448.04,155.82 L448.77,156.12 L449.50,156.43 L450.23,156.73 L450.96,157.04 L451.69,157.34 L452.42,157.65 L453.15,157.96 L453.88,158.26 L454.61,158.57 L455.34,158.88 L456.07,159.19 L456.80,159.49 L457.53,159.80 L458.25,160.10 L458.98,160.40 L459.71,160.71 L460.44,161.00 L461.17,161.30 L461.90,161.59 L462.63,161.89 L463.36,162.17 L464.09,162.46 L464.82,162.73 L465.55,163.01 L466.28,163.28 L467.01,163.54 L467.74,163.79 L468.47,164.04 L469.20,164.28 L469.93,164.52 L470.66,164.74 L471.39,164.95 L472.12,165.16 L472.85,165.35 L473.58,165.54 L474.30,165.71 L475.03,165.86 L475.76,166.01 L476.49,166.14 L477.22,166.26 L477.95,166.36 L478.68,166.44 L479.41,166.51 L480.14,166.57 L480.87,166.60 L481.60,166.62 L482.33,166.63 L483.06,166.61 L483.79,166.58 L484.52,166.52 L485.25,166.46 L485.98,166.37 L486.71,166.26 L487.44,166.14 L488.17,166.00 L488.90,165.84 L489.63,165.67 L490.36,165.48 L491.08,165.27 L491.81,165.05 L492.54,164.82 L493.27,164.57 L494.00,164.30 L494.73,164.02 L495.46,163.73 L496.19,163.43 L496.92,163.12 L497.65,162.79 L498.38,162.46 L499.11,162.11 L499.84,161.75 L500.57,161.39 L501.30,161.01 L502.03,160.63 L502.76,160.23 L503.49,159.84 L504.22,159.43 L504.95,159.01 L505.68,158.59 L506.41,158.17 L507.13,157.73 L507.86,157.29 L508.59,156.85 L509.32,156.40 L510.05,155.95 L510.78,155.49 L511.51,155.02 L512.24,154.55 L512.97,154.08 L513.70,153.60 L514.43,153.12 L515.16,152.64 L515.89,152.15 L516.62,151.66 L517.35,151.17 L518.08,150.67 L518.81,150.17 L519.54,149.66 L520.27,149.16 L521.00,148.65 L521.73,148.14 L522.46,147.62 L523.18,147.11 L523.91,146.59 L524.64,146.07 L525.37,145.55 L526.10,145.02 L526.83,144.49 L527.56,143.96 L528.29,143.43 L529.02,142.90 L529.75,142.37 L530.48,141.83 L531.21,141.29 L531.94,140.75 L532.67,140.21 L533.40,139.67 L534.13,139.13 L534.86,138.58 L535.59,138.03 L536.32,137.49 L537.05,136.94 L537.78,136.39 L538.51,135.83 L539.23,135.28 L539.96,134.73 L540.69,134.17 L541.42,133.61 L542.15,133.06 L542.88,132.50 L543.61,131.94 L544.34,131.38 L545.07,130.81 L545.80,130.25 L546.53,129.68 L547.26,129.12 L547.99,128.55 L548.72,127.99 L549.45,127.42 L550.18,126.85 L550.91,126.28 L551.64,125.71 L552.37,125.13 L553.10,124.56 L553.83,123.99 L554.56,123.41 L555.28,122.84 L556.01,122.26 L556.74,121.68 L557.47,121.11 L558.20,120.53 L558.93,119.95 L559.66,119.37 L560.39,118.79 L561.12,118.21 L561.85,117.62 L562.58,117.04 L563.31,116.46 L564.04,115.87 L564.77,115.29 L565.50,114.70 L566.23,114.11 L566.96,113.53 L567.69,112.94 L568.42,112.35 L569.15,111.76 L569.88,111.17 L570.61,110.58 L571.33,109.99 L572.06,109.40 L572.79,108.80 L573.52,108.21 L574.25,107.62 L574.98,107.02 L575.71,106.43 L576.44,105.83 L577.17,105.24 L577.90,104.64 L578.63,104.04 L579.36,103.44 L580.09,102.84 L580.82,102.24 L581.55,101.64 L582.28,101.04 L583.01,100.44 L583.74,99.84 L584.47,99.24 L585.20,98.64 L585.93,98.03 L586.66,97.43 L587.39,96.83 L588.11,96.22 L588.84,95.62 L589.57,95.01 L590.30,94.40 L591.03,93.80 L591.76,93.19 L592.49,92.58 L593.22,91.97 L593.95,91.36 L594.68,90.75 L595.41,90.14 L596.14,89.53 L596.87,88.92 L597.60,88.31 L598.33,87.70 L599.06,87.09 L599.79,86.47 L600.52,85.86 L601.25,85.25 L601.98,84.63 L602.71,84.02 L603.44,83.40 L604.16,82.79 L604.89,82.17 L605.62,81.55 L606.35,80.94 L607.08,80.32 L607.81,79.70 L608.54,79.08 L609.27,78.46 L610.00,77.84 L610.73,77.22 L611.46,76.60 L612.19,75.98 L612.92,75.36 L613.65,74.74 L614.38,74.12 L615.11,73.49 L615.84,72.87 L616.57,72.25 L617.30,71.62 L618.03,71.00 L618.76,70.37 L619.49,69.75 L620.21,69.12 L620.94,68.50 L621.67,67.87 L622.40,67.24 L623.13,66.61 L623.86,65.99 L624.59,65.36 L625.32,64.73 L626.05,64.10 L626.78,63.47 L627.51,62.84 L628.24,62.21 L628.97,61.58 L629.70,60.95 L630.43,60.32 L631.16,59.69 L631.89,59.05 L632.62,58.42 L633.35,57.79 L634.08,57.15 L634.81,56.52 L635.54,55.89 L636.26,55.25 L636.99,54.62 L637.72,53.98 L638.45,53.34 L639.18,52.71 L639.91,52.07 L640.64,51.43 L641.37,50.80 L642.10,50.16 L642.83,49.52 L643.56,48.88 L644.29,48.24 L645.02,47.60 L645.75,46.96 L646.48,46.32 L647.21,45.68 L647.94,45.04 L648.67,44.40 L649.40,43.76 L650.13,43.12 L650.86,42.48 L651.59,41.83 L652.31,41.19 L653.04,40.55 L653.77,39.90 L654.50,39.26 L655.23,38.61 L655.96,37.97 L656.69,37.32 L657.42,36.68 L658.15,36.03 L658.88,35.39 L659.61,34.74 L660.34,34.09 L661.07,33.45 L661.80,32.80 L662.53,32.15 L663.26,31.50 L663.99,30.85 L664.72,30.20 L665.45,29.56 L666.18,28.91 L666.91,28.26 L667.64,27.61 L668.36,26.95 L669.09,26.30 L669.82,25.65 L670.55,25.00 L671.28,24.35 L672.01,23.70 L672.74,23.04 L673.47,22.39 L674.20,21.74 L674.93,21.08 L675.66,20.43 L676.39,19.77" stroke="#ff0000" stroke-width="2.0" stroke-linecap="square" stroke-dasharray="5.75 3.85 0.01 3.85"/>
<path d="M385.30,139.73 L386.03,139.73 L386.76,139.74 L387.49,139.75 L388.22,139.76 L388.95,139.78 L389.68,139.80 L390.41,139.82 L391.14,139.85 L391.87,139.88 L392.60,139.92 L393.33,139.96 L394.05,140.00 L394.78,140.05 L395.51,140.10 L396.24,140.15 L396.97,140.21 L397.70,140.27 L398.43,140.33 L399.16,140.40 L399.89,140.47 L400.62,140.55 L401.35,140.63 L402.08,140.71 L402.81,140.80 L403.54,140.89 L404.27,140.98 L405.00,141.08 L405.73,141.18 L406.46,141.29 L407.19,141.40 L407.92,141.51 L408.65,141.62 L409.38,141.74 L410.10,141.86 L410.83,141.99 L411.56,142.12 L412.29,142.25 L413.02,142.39 L413.75,142.53 L414.48,142.67 L415.21,142.81 L415.94,142.96 L416.67,143.12 L417.40,143.27 L418.13,143.43 L418.86,143.59 L419.59,143.76 L420.32,143.93 L421.05,144.10 L421.78,144.27 L422.51,144.45 L423.24,144.63 L423.97,144.82 L424.70,145.00 L425.43,145.19 L426.15,145.39 L426.88,145.58 L427.61,145.78 L428.34,145.98 L429.07,146.19 L429.80,146.39 L430.53,146.60 L431.26,146.81 L431.99,147.03 L432.72,147.24 L433.45,147.46 L434.18,147.68 L434.91,147.91 L435.64,148.13 L436.37,148.36 L437.10,148.59 L437.83,148.82 L438.56,149.05 L439.29,149.29 L440.02,149.52 L440.75,149.76 L441.48,150.00 L442.20,150.24 L442.93,150.49 L443.66,150.73 L444.39,150.97 L445.12,151.22 L445.85,151.47 L446.58,151.71 L447.31,151.96 L448.04,152.21 L448.77,152.46 L449.50,152.71 L450.23,152.95 L450.96,153.20 L451.69,153.45 L452.42,153.70 L453.15,153.94 L453.88,154.19 L454.61,154.44 L455.34,154.68 L456.07,154.92 L456.80,155.16 L457.53,155.40 L458.25,155.63 L458.98,155.87 L459.71,156.10 L460.44,156.32 L461.17,156.55 L461.90,156.77 L462.63,156.99 L463.36,157.20 L464.09,157.41 L464.82,157.61 L465.55,157.81 L466.28,158.00 L467.01,158.19 L467.74,158.37 L468.47,158.55 L469.20,158.72 L469.93,158.88 L470.66,159.03 L471.39,159.18 L472.12,159.32 L472.85,159.45 L473.58,159.57 L474.30,159.68 L475.03,159.78 L475.76,159.87 L476.49,159.96 L477.22,160.03 L477.95,160.09 L478.68,160.14 L479.41,160.18 L480.14,160.21 L480.87,160.23 L481.60,160.23 L482.33,160.23 L483.06,160.21 L483.79,160.18 L484.52,160.14 L485.25,160.08 L485.98,160.02 L486.71,159.94 L487.44,159.84 L488.17,159.74 L488.90,159.62 L489.63,159.50 L490.36,159.36 L491.08,159.20 L491.81,159.04 L492.54,158.86 L493.27,158.68 L494.00,158.48 L494.73,158.27 L495.46,158.05 L496.19,157.82 L496.92,157.58 L497.65,157.33 L498.38,157.07 L499.11,156.80 L499.84,156.52 L500.57,156.23 L501.30,155.93 L502.03,155.62 L502.76,155.31 L503.49,154.98 L504.22,154.65 L504.95,154.31 L505.68,153.96 L506.41,153.61 L507.13,153.25 L507.86,152.88 L508.59,152.51 L509.32,152.13 L510.05,151.74 L510.78,151.35 L511.51,150.95 L512.24,150.55 L512.97,150.14 L513.70,149.72 L514.43,149.30 L515.16,148.88 L515.89,148.45 L516.62,148.02 L517.35,147.58 L518.08,147.13 L518.81,146.69 L519.54,146.24 L520.27,145.78 L521.00,145.32 L521.73,144.86 L522.46,144.40 L523.18,143.93 L523.91,143.46 L524.64,142.98 L525.37,142.50 L526.10,142.02 L526.83,141.54 L527.56,141.05 L528.29,140.56 L529.02,140.07 L529.75,139.57 L530.48,139.07 L531.21,138.57 L531.94,138.07 L532.67,137.57 L533.40,137.06 L534.13,136.55 L534.86,136.04 L535.59,135.52 L536.32,135.01 L537.05,134.49 L537.78,133.97 L538.51,133.45 L539.23,132.92 L539.96,132.40 L540.69,131.87 L541.42,131.34 L542.15,130.81 L542.88,130.28 L543.61,129.74 L544.34,129.21 L545.07,128.67 L545.80,128.13 L546.53,127.59 L547.26,127.05 L547.99,126.51 L548.72,125.96 L549.45,125.42 L550.18,124.87 L550.91,124.32 L551.64,123.77 L552.37,123.22 L553.10,122.67 L553.83,122.11 L554.56,121.56 L555.28,121.00 L556.01,120.44 L556.74,119.89 L557.47,119.33 L558.20,118.77 L558.93,118.20 L559.66,117.64 L560.39,117.08 L561.12,116.51 L561.85,115.95 L562.58,115.38 L563.31,114.81 L564.04,114.24 L564.77,113.67 L565.50,113.10 L566.23,112.53 L566.96,111.96 L567.69,111.38 L568.42,110.81 L569.15,110.23 L569.88,109.66 L570.61,109.08 L571.33,108.50 L572.06,107.92 L572.79,107.34 L573.52,106.76 L574.25,106.18 L574.98,105.60 L575.71,105.02 L576.44,104.43 L577.17,103.85 L577.90,103.26 L578.63,102.68 L579.36,102.09 L580.09,101.50 L580.82,100.91 L581.55,100.32 L582.28,99.73 L583.01,99.14 L583.74,98.55 L584.47,97.96 L585.20,97.37 L585.93,96.78 L586.66,96.18 L587.39,95.59 L588.11,94.99 L588.84,94.40 L589.57,93.80 L590.30,93.20 L591.03,92.60 L591.76,92.00 L592.49,91.41 L593.22,90.81 L593.95,90.21 L594.68,89.60 L595.41,89.00 L596.14,88.40 L596.87,87.80 L597.60,87.19 L598.33,86.59 L599.06,85.98 L599.79,85.38 L600.52,84.77 L601.25,84.17 L601.98,83.56 L602.71,82.95 L603.44,82.34 L604.16,81.74 L604.89,81.13 L605.62,80.52 L606.35,79.91 L607.08,79.30 L607.81,78.68 L608.54,78.07 L609.27,77.46 L610.00,76.85 L610.73,76.23 L611.46,75.62 L612.19,75.00 L612.92,74.39 L613.65,73.77 L614.38,73.16 L615.11,72.54 L615.84,71.92 L616.57,71.30 L617.30,70.69 L618.03,70.07 L618.76,69.45 L619.49,68.83 L620.21,68.21 L620.94,67.59 L621.67,66.97 L622.40,66.35 L623.13,65.72 L623.86,65.10 L624.59,64.48 L625.32,63.85 L626.05,63.23 L626.78,62.61 L627.51,61.98 L628.24,61.36 L628.97,60.73 L629.70,60.10 L630.43,59.48 L631.16,58.85 L631.89,58.22 L632.62,57.59 L633.35,56.96 L634.08,56.34 L634.81,55.71 L635.54,55.08 L636.26,54.45 L636.99,53.82 L637.72,53.18 L638.45,52.55 L639.18,51.92 L639.91,51.29 L640.64,50.65 L641.37,50.02 L642.10,49.39 L642.83,48.75 L643.56,48.12 L644.29,47.48 L645.02,46.85 L645.75,46.21 L646.48,45.58 L647.21,44.94 L647.94,44.30 L648.67,43.67 L649.40,43.03 L650.13,42.39 L650.86,41.75 L651.59,41.11 L652.31,40.47 L653.04,39.83 L653.77,39.19 L654.50,38.55 L655.23,37.91 L655.96,37.27 L656.69,36.63 L657.42,35.98 L658.15,35.34 L658.88,34.70 L659.61,34.06 L660.34,33.41 L661.07,32.77 L661.80,32.12 L662.53,31.48 L663.26,30.83 L663.99,30.19 L664.72,29.54 L665.45,28.90 L666.18,28.25 L666.91,27.60 L667.64,26.95 L668.36,26.31 L669.09,25.66 L669.82,25.01 L670.55,24.36 L671.28,23.71 L672.01,23.06 L672.74,22.41 L673.47,21.76 L674.20,21.11 L674.93,20.46 L675.66,19.81 L676.39,19.16" stroke="#fff800" stroke-width="1.9" stroke-linecap="square"/>
<path d="M385.30,134.59 L386.03,134.59 L386.76,134.59 L387.49,134.60 L388.22,134.61 L388.95,134.63 L389.68,134.64 L390.41,134.66 L391.14,134.68 L391.87,134.71 L392.60,134.73 L393.33,134.77 L394.05,134.80 L394.78,134.84 L395.51,134.87 L396.24,134.92 L396.97,134.96 L397.70,135.01 L398.43,135.06 L399.16,135.11 L399.89,135.17 L400.62,135.23 L401.35,135.29 L402.08,135.36 L402.81,135.42 L403.54,135.49 L404.27,135.57 L405.00,135.64 L405.73,135.72 L406.46,135.80 L407.19,135.88 L407.92,135.97 L408.65,136.06 L409.38,136.15 L410.10,136.24 L410.83,136.34 L411.56,136.44 L412.29,136.54 L413.02,136.64 L413.75,136.75 L414.48,136.86 L415.21,136.97 L415.94,137.08 L416.67,137.20 L417.40,137.32 L418.13,137.44 L418.86,137.56 L419.59,137.68 L420.32,137.81 L421.05,137.94 L421.78,138.07 L422.51,138.20 L423.24,138.34 L423.97,138.47 L424.70,138.61 L425.43,138.75 L426.15,138.89 L426.88,139.04 L427.61,139.18 L428.34,139.33 L429.07,139.48 L429.80,139.63 L430.53,139.78 L431.26,139.93 L431.99,140.09 L432.72,140.24 L433.45,140.40 L434.18,140.56 L434.91,140.71 L435.64,140.87 L436.37,141.03 L437.10,141.20 L437.83,141.36 L438.56,141.52 L439.29,141.68 L440.02,141.85 L440.75,142.01 L441.48,142.17 L442.20,142.34 L442.93,142.50 L443.66,142.67 L444.39,142.83 L445.12,143.00 L445.85,143.16 L446.58,143.32 L447.31,143.49 L448.04,143.65 L448.77,143.81 L449.50,143.97 L450.23,144.13 L450.96,144.29 L451.69,144.45 L452.42,144.61 L453.15,144.76 L453.88,144.92 L454.61,145.07 L455.34,145.22 L456.07,145.36 L456.80,145.51 L457.53,145.65 L458.25,145.80 L458.98,145.93 L459.71,146.07 L460.44,146.20 L461.17,146.33 L461.90,146.46 L462.63,146.58 L463.36,146.70 L464.09,146.82 L464.82,146.93 L465.55,147.04 L466.28,147.15 L467.01,147.25 L467.74,147.34 L468.47,147.44 L469.20,147.52 L469.93,147.60 L470.66,147.68 L471.39,147.75 L472.12,147.82 L472.85,147.88 L473.58,147.94 L474.30,147.99 L475.03,148.03 L475.76,148.07 L476.49,148.10 L477.22,148.13 L477.95,148.15 L478.68,148.16 L479.41,148.17 L480.14,148.17 L480.87,148.17 L481.60,148.15 L482.33,148.13 L483.06,148.11 L483.79,148.07 L484.52,148.03 L485.25,147.98 L485.98,147.93 L486.71,147.86 L487.44,147.79 L488.17,147.71 L488.90,147.63 L489.63,147.54 L490.36,147.44 L491.08,147.33 L491.81,147.21 L492.54,147.09 L493.27,146.96 L494.00,146.82 L494.73,146.68 L495.46,146.52 L496.19,146.36 L496.92,146.20 L497.65,146.02 L498.38,145.84 L499.11,145.65 L499.84,145.46 L500.57,145.25 L501.30,145.04 L502.03,144.82 L502.76,144.60 L503.49,144.37 L504.22,144.13 L504.95,143.89 L505.68,143.64 L506.41,143.38 L507.13,143.12 L507.86,142.84 L508.59,142.57 L509.32,142.29 L510.05,142.00 L510.78,141.70 L511.51,141.40 L512.24,141.10 L512.97,140.79 L513.70,140.47 L514.43,140.15 L515.16,139.82 L515.89,139.48 L516.62,139.15 L517.35,138.80 L518.08,138.45 L518.81,138.10 L519.54,137.74 L520.27,137.38 L521.00,137.01 L521.73,136.64 L522.46,136.26 L523.18,135.88 L523.91,135.50 L524.64,135.11 L525.37,134.71 L526.10,134.32 L526.83,133.92 L527.56,133.51 L528.29,133.10 L529.02,132.69 L529.75,132.27 L530.48,131.85 L531.21,131.43 L531.94,131.00 L532.67,130.57 L533.40,130.14 L534.13,129.70 L534.86,129.26 L535.59,128.81 L536.32,128.37 L537.05,127.92 L537.78,127.47 L538.51,127.01 L539.23,126.55 L539.96,126.09 L540.69,125.63 L541.42,125.16 L542.15,124.69 L542.88,124.22 L543.61,123.75 L544.34,123.27 L545.07,122.79 L545.80,122.31 L546.53,121.83 L547.26,121.34 L547.99,120.85 L548.72,120.36 L549.45,119.87 L550.18,119.38 L550.91,118.88 L551.64,118.38 L552.37,117.88 L553.10,117.38 L553.83,116.87 L554.56,116.37 L555.28,115.86 L556.01,115.35 L556.74,114.83 L557.47,114.32 L558.20,113.80 L558.93,113.29 L559.66,112.77 L560.39,112.25 L561.12,111.72 L561.85,111.20 L562.58,110.67 L563.31,110.15 L564.04,109.62 L564.77,109.09 L565.50,108.56 L566.23,108.02 L566.96,107.49 L567.69,106.95 L568.42,106.41 L569.15,105.87 L569.88,105.33 L570.61,104.79 L571.33,104.25 L572.06,103.70 L572.79,103.16 L573.52,102.61 L574.25,102.06 L574.98,101.51 L575.71,100.96 L576.44,100.41 L577.17,99.86 L577.90,99.30 L578.63,98.75 L579.36,98.19 L580.09,97.63 L580.82,97.07 L581.55,96.51 L582.28,95.95 L583.01,95.39 L583.74,94.83 L584.47,94.26 L585.20,93.70 L585.93,93.13 L586.66,92.56 L587.39,91.99 L588.11,91.42 L588.84,90.85 L589.57,90.28 L590.30,89.71 L591.03,89.14 L591.76,88.56 L592.49,87.99 L593.22,87.41 L593.95,86.83 L594.68,86.26 L595.41,85.68 L596.14,85.10 L596.87,84.52 L597.60,83.93 L598.33,83.35 L599.06,82.77 L599.79,82.18 L600.52,81.60 L601.25,81.01 L601.98,80.43 L602.71,79.84 L603.44,79.25 L604.16,78.66 L604.89,78.07 L605.62,77.48 L606.35,76.89 L607.08,76.30 L607.81,75.71 L608.54,75.11 L609.27,74.52 L610.00,73.93 L610.73,73.33 L611.46,72.73 L612.19,72.14 L612.92,71.54 L613.65,70.94 L614.38,70.34 L615.11,69.74 L615.84,69.14 L616.57,68.54 L617.30,67.94 L618.03,67.33 L618.76,66.73 L619.49,66.13 L620.21,65.52 L620.94,64.92 L621.67,64.31 L622.40,63.71 L623.13,63.10 L623.86,62.49 L624.59,61.88 L625.32,61.27 L626.05,60.66 L626.78,60.05 L627.51,59.44 L628.24,58.83 L628.97,58.22 L629.70,57.61 L630.43,56.99 L631.16,56.38 L631.89,55.77 L632.62,55.15 L633.35,54.53 L634.08,53.92 L634.81,53.30 L635.54,52.69 L636.26,52.07 L636.99,51.45 L637.72,50.83 L638.45,50.21 L639.18,49.59 L639.91,48.97 L640.64,48.35 L641.37,47.73 L642.10,47.11 L642.83,46.48 L643.56,45.86 L644.29,45.24 L645.02,44.61 L645.75,43.99 L646.48,43.36 L647.21,42.74 L647.94,42.11 L648.67,41.48 L649.40,40.86 L650.13,40.23 L650.86,39.60 L651.59,38.97 L652.31,38.34 L653.04,37.71 L653.77,37.08 L654.50,36.45 L655.23,35.82 L655.96,35.19 L656.69,34.56 L657.42,33.93 L658.15,33.29 L658.88,32.66 L659.61,32.03 L660.34,31.39 L661.07,30.76 L661.80,30.12 L662.53,29.49 L663.26,28.85 L663.99,28.21 L664.72,27.58 L665.45,26.94 L666.18,26.30 L666.91,25.66 L667.64,25.02 L668.36,24.38 L669.09,23.74 L669.82,23.10 L670.55,22.46 L671.28,21.82 L672.01,21.18 L672.74,20.54 L673.47,19.90 L674.20,19.26 L674.93,18.61 L675.66,17.97 L676.39,17.33" stroke="#fff800" stroke-width="1.9" stroke-linecap="square" stroke-dasharray="3.85 3.85"/>
<path d="M385.30,127.05 L386.03,127.05 L386.76,127.06 L387.49,127.06 L388.22,127.07 L388.95,127.08 L389.68,127.09 L390.41,127.10 L391.14,127.12 L391.87,127.14 L392.60,127.16 L393.33,127.18 L394.05,127.20 L394.78,127.23 L395.51,127.26 L396.24,127.29 L396.97,127.32 L397.70,127.35 L398.43,127.39 L399.16,127.42 L399.89,127.46 L400.62,127.51 L401.35,127.55 L402.08,127.59 L402.81,127.64 L403.54,127.69 L404.27,127.74 L405.00,127.79 L405.73,127.85 L406.46,127.91 L407.19,127.96 L407.92,128.02 L408.65,128.09 L409.38,128.15 L410.10,128.22 L410.83,128.28 L411.56,128.35 L412.29,128.42 L413.02,128.49 L413.75,128.57 L414.48,128.64 L415.21,128.72 L415.94,128.79 L416.67,128.87 L417.40,128.95 L418.13,129.04 L418.86,129.12 L419.59,129.20 L420.32,129.29 L421.05,129.38 L421.78,129.47 L422.51,129.56 L423.24,129.65 L423.97,129.74 L424.70,129.83 L425.43,129.92 L426.15,130.02 L426.88,130.12 L427.61,130.21 L428.34,130.31 L429.07,130.41 L429.80,130.51 L430.53,130.61 L431.26,130.71 L431.99,130.81 L432.72,130.91 L433.45,131.01 L434.18,131.11 L434.91,131.21 L435.64,131.32 L436.37,131.42 L437.10,131.52 L437.83,131.62 L438.56,131.73 L439.29,131.83 L440.02,131.93 L440.75,132.04 L441.48,132.14 L442.20,132.24 L442.93,132.34 L443.66,132.45 L444.39,132.55 L445.12,132.65 L445.85,132.75 L446.58,132.85 L447.31,132.95 L448.04,133.04 L448.77,133.14 L449.50,133.24 L450.23,133.33 L450.96,133.42 L451.69,133.52 L452.42,133.61 L453.15,133.70 L453.88,133.78 L454.61,133.87 L455.34,133.96 L456.07,134.04 L456.80,134.12 L457.53,134.20 L458.25,134.28 L458.98,134.35 L459.71,134.43 L460.44,134.50 L461.17,134.57 L461.90,134.63 L462.63,134.70 L463.36,134.76 L464.09,134.82 L464.82,134.87 L465.55,134.92 L466.28,134.97 L467.01,135.02 L467.74,135.07 L468.47,135.11 L469.20,135.14 L469.93,135.18 L470.66,135.21 L471.39,135.24 L472.12,135.26 L472.85,135.28 L473.58,135.30 L474.30,135.31 L475.03,135.32 L475.76,135.32 L476.49,135.32 L477.22,135.32 L477.95,135.31 L478.68,135.30 L479.41,135.28 L480.14,135.26 L480.87,135.24 L481.60,135.21 L482.33,135.18 L483.06,135.14 L483.79,135.09 L484.52,135.05 L485.25,134.99 L485.98,134.94 L486.71,134.87 L487.44,134.81 L488.17,134.74 L488.90,134.66 L489.63,134.58 L490.36,134.49 L491.08,134.40 L491.81,134.30 L492.54,134.20 L493.27,134.09 L494.00,133.98 L494.73,133.86 L495.46,133.74 L496.19,133.61 L496.92,133.48 L497.65,133.34 L498.38,133.20 L499.11,133.05 L499.84,132.89 L500.57,132.74 L501.30,132.57 L502.03,132.40 L502.76,132.23 L503.49,132.05 L504.22,131.86 L504.95,131.67 L505.68,131.48 L506.41,131.28 L507.13,131.07 L507.86,130.86 L508.59,130.65 L509.32,130.43 L510.05,130.20 L510.78,129.97 L511.51,129.73 L512.24,129.49 L512.97,129.25 L513.70,129.00 L514.43,128.75 L515.16,128.49 L515.89,128.22 L516.62,127.95 L517.35,127.68 L518.08,127.40 L518.81,127.12 L519.54,126.84 L520.27,126.54 L521.00,126.25 L521.73,125.95 L522.46,125.64 L523.18,125.34 L523.91,125.02 L524.64,124.71 L525.37,124.39 L526.10,124.06 L526.83,123.73 L527.56,123.40 L528.29,123.06 L529.02,122.72 L529.75,122.38 L530.48,122.03 L531.21,121.68 L531.94,121.32 L532.67,120.96 L533.40,120.60 L534.13,120.23 L534.86,119.86 L535.59,119.49 L536.32,119.11 L537.05,118.73 L537.78,118.34 L538.51,117.96 L539.23,117.57 L539.96,117.17 L540.69,116.77 L541.42,116.37 L542.15,115.97 L542.88,115.57 L543.61,115.16 L544.34,114.74 L545.07,114.33 L545.80,113.91 L546.53,113.49 L547.26,113.07 L547.99,112.64 L548.72,112.21 L549.45,111.78 L550.18,111.34 L550.91,110.91 L551.64,110.47 L552.37,110.03 L553.10,109.58 L553.83,109.13 L554.56,108.68 L555.28,108.23 L556.01,107.78 L556.74,107.32 L557.47,106.86 L558.20,106.40 L558.93,105.94 L559.66,105.47 L560.39,105.00 L561.12,104.53 L561.85,104.06 L562.58,103.58 L563.31,103.11 L564.04,102.63 L564.77,102.15 L565.50,101.66 L566.23,101.18 L566.96,100.69 L567.69,100.20 L568.42,99.71 L569.15,99.22 L569.88,98.73 L570.61,98.23 L571.33,97.73 L572.06,97.23 L572.79,96.73 L573.52,96.23 L574.25,95.72 L574.98,95.22 L575.71,94.71 L576.44,94.20 L577.17,93.69 L577.90,93.18 L578.63,92.66 L579.36,92.15 L580.09,91.63 L580.82,91.11 L581.55,90.59 L582.28,90.06 L583.01,89.54 L583.74,89.02 L584.47,88.49 L585.20,87.96 L585.93,87.43 L586.66,86.90 L587.39,86.37 L588.11,85.83 L588.84,85.30 L589.57,84.76 L590.30,84.23 L591.03,83.69 L591.76,83.15 L592.49,82.61 L593.22,82.06 L593.95,81.52 L594.68,80.97 L595.41,80.43 L596.14,79.88 L596.87,79.33 L597.60,78.78 L598.33,78.23 L599.06,77.68 L599.79,77.12 L600.52,76.57 L601.25,76.01 L601.98,75.46 L602.71,74.90 L603.44,74.34 L604.16,73.78 L604.89,73.22 L605.62,72.66 L606.35,72.09 L607.08,71.53 L607.81,70.96 L608.54,70.40 L609.27,69.83 L610.00,69.26 L610.73,68.69 L611.46,68.12 L612.19,67.55 L612.92,66.98 L613.65,66.41 L614.38,65.83 L615.11,65.26 L615.84,64.68 L616.57,64.11 L617.30,63.53 L618.03,62.95 L618.76,62.37 L619.49,61.79 L620.21,61.21 L620.94,60.63 L621.67,60.04 L622.40,59.46 L623.13,58.88 L623.86,58.29 L624.59,57.70 L625.32,57.12 L626.05,56.53 L626.78,55.94 L627.51,55.35 L628.24,54.76 L628.97,54.17 L629.70,53.58 L630.43,52.99 L631.16,52.39 L631.89,51.80 L632.62,51.20 L633.35,50.61 L634.08,50.01 L634.81,49.41 L635.54,48.82 L636.26,48.22 L636.99,47.62 L637.72,47.02 L638.45,46.42 L639.18,45.82 L639.91,45.22 L640.64,44.61 L641.37,44.01 L642.10,43.41 L642.83,42.80 L643.56,42.20 L644.29,41.59 L645.02,40.98 L645.75,40.38 L646.48,39.77 L647.21,39.16 L647.94,38.55 L648.67,37.94 L649.40,37.33 L650.13,36.72 L650.86,36.11 L651.59,35.49 L652.31,34.88 L653.04,34.27 L653.77,33.65 L654.50,33.04 L655.23,32.42 L655.96,31.80 L656.69,31.19 L657.42,30.57 L658.15,29.95 L658.88,29.33 L659.61,28.72 L660.34,28.10 L661.07,27.48 L661.80,26.85 L662.53,26.23 L663.26,25.61 L663.99,24.99 L664.72,24.37 L665.45,23.74 L666.18,23.12 L666.91,22.49 L667.64,21.87 L668.36,21.24 L669.09,20.62 L669.82,19.99 L670.55,19.36 L671.28,18.73 L672.01,18.11 L672.74,17.48 L673.47,16.85 L674.20,16.22 L674.93,15.59 L675.66,14.96 L676.39,14.33" stroke="#fff800" stroke-width="1.9" stroke-linecap="square" stroke-dasharray="5.75 3.85 0.01 3.85"/>
<path d="M385.30,120.41 L386.03,120.41 L386.76,120.42 L387.49,120.42 L388.22,120.43 L388.95,120.43 L389.68,120.44 L390.41,120.45 L391.14,120.46 L391.87,120.48 L392.60,120.49 L393.33,120.51 L394.05,120.52 L394.78,120.54 L395.51,120.56 L396.24,120.59 L396.97,120.61 L397.70,120.63 L398.43,120.66 L399.16,120.69 L399.89,120.72 L400.62,120.75 L401.35,120.78 L402.08,120.81 L402.81,120.85 L403.54,120.89 L404.27,120.92 L405.00,120.96 L405.73,121.00 L406.46,121.04 L407.19,121.09 L407.92,121.13 L408.65,121.18 L409.38,121.22 L410.10,121.27 L410.83,121.32 L411.56,121.37 L412.29,121.42 L413.02,121.47 L413.75,121.52 L414.48,121.58 L415.21,121.63 L415.94,121.69 L416.67,121.75 L417.40,121.81 L418.13,121.87 L418.86,121.93 L419.59,121.99 L420.32,122.05 L421.05,122.11 L421.78,122.17 L422.51,122.24 L423.24,122.30 L423.97,122.37 L424.70,122.43 L425.43,122.50 L426.15,122.57 L426.88,122.64 L427.61,122.70 L428.34,122.77 L429.07,122.84 L429.80,122.91 L430.53,122.98 L431.26,123.05 L431.99,123.12 L432.72,123.19 L433.45,123.26 L434.18,123.33 L434.91,123.40 L435.64,123.48 L436.37,123.55 L437.10,123.62 L437.83,123.69 L438.56,123.76 L439.29,123.83 L440.02,123.90 L440.75,123.97 L441.48,124.04 L442.20,124.11 L442.93,124.17 L443.66,124.24 L444.39,124.31 L445.12,124.38 L445.85,124.44 L446.58,124.51 L447.31,124.57 L448.04,124.63 L448.77,124.70 L449.50,124.76 L450.23,124.82 L450.96,124.88 L451.69,124.94 L452.42,124.99 L453.15,125.05 L453.88,125.10 L454.61,125.16 L455.34,125.21 L456.07,125.26 L456.80,125.31 L457.53,125.36 L458.25,125.40 L458.98,125.44 L459.71,125.49 L460.44,125.53 L461.17,125.56 L461.90,125.60 L462.63,125.63 L463.36,125.67 L464.09,125.70 L464.82,125.72 L465.55,125.75 L466.28,125.77 L467.01,125.79 L467.74,125.81 L468.47,125.82 L469.20,125.84 L469.93,125.85 L470.66,125.86 L471.39,125.86 L472.12,125.86 L472.85,125.86 L473.58,125.86 L474.30,125.85 L475.03,125.84 L475.76,125.83 L476.49,125.81 L477.22,125.79 L477.95,125.77 L478.68,125.74 L479.41,125.71 L480.14,125.68 L480.87,125.65 L481.60,125.61 L482.33,125.56 L483.06,125.52 L483.79,125.47 L484.52,125.41 L485.25,125.36 L485.98,125.29 L486.71,125.23 L487.44,125.16 L488.17,125.09 L488.90,125.01 L489.63,124.93 L490.36,124.85 L491.08,124.76 L491.81,124.67 L492.54,124.57 L493.27,124.47 L494.00,124.36 L494.73,124.26 L495.46,124.14 L496.19,124.03 L496.92,123.91 L497.65,123.78 L498.38,123.65 L499.11,123.52 L499.84,123.38 L500.57,123.24 L501.30,123.09 L502.03,122.94 L502.76,122.79 L503.49,122.63 L504.22,122.47 L504.95,122.30 L505.68,122.13 L506.41,121.95 L507.13,121.77 L507.86,121.59 L508.59,121.40 L509.32,121.21 L510.05,121.01 L510.78,120.81 L511.51,120.60 L512.24,120.40 L512.97,120.18 L513.70,119.96 L514.43,119.74 L515.16,119.52 L515.89,119.29 L516.62,119.05 L517.35,118.82 L518.08,118.57 L518.81,118.33 L519.54,118.08 L520.27,117.82 L521.00,117.56 L521.73,117.30 L522.46,117.04 L523.18,116.77 L523.91,116.49 L524.64,116.22 L525.37,115.93 L526.10,115.65 L526.83,115.36 L527.56,115.07 L528.29,114.77 L529.02,114.47 L529.75,114.17 L530.48,113.86 L531.21,113.55 L531.94,113.23 L532.67,112.92 L533.40,112.59 L534.13,112.27 L534.86,111.94 L535.59,111.61 L536.32,111.27 L537.05,110.94 L537.78,110.59 L538.51,110.25 L539.23,109.90 L539.96,109.55 L540.69,109.19 L541.42,108.83 L542.15,108.47 L542.88,108.11 L543.61,107.74 L544.34,107.37 L545.07,107.00 L545.80,106.62 L546.53,106.24 L547.26,105.86 L547.99,105.47 L548.72,105.09 L549.45,104.69 L550.18,104.30 L550.91,103.90 L551.64,103.50 L552.37,103.10 L553.10,102.70 L553.83,102.29 L554.56,101.88 L555.28,101.47 L556.01,101.05 L556.74,100.63 L557.47,100.21 L558.20,99.79 L558.93,99.37 L559.66,98.94 L560.39,98.51 L561.12,98.08 L561.85,97.64 L562.58,97.20 L563.31,96.77 L564.04,96.32 L564.77,95.88 L565.50,95.43 L566.23,94.99 L566.96,94.53 L567.69,94.08 L568.42,93.63 L569.15,93.17 L569.88,92.71 L570.61,92.25 L571.33,91.79 L572.06,91.32 L572.79,90.85 L573.52,90.39 L574.25,89.91 L574.98,89.44 L575.71,88.97 L576.44,88.49 L577.17,88.01 L577.90,87.53 L578.63,87.05 L579.36,86.56 L580.09,86.08 L580.82,85.59 L581.55,85.10 L582.28,84.61 L583.01,84.12 L583.74,83.62 L584.47,83.13 L585.20,82.63 L585.93,82.13 L586.66,81.63 L587.39,81.12 L588.11,80.62 L588.84,80.11 L589.57,79.61 L590.30,79.10 L591.03,78.59 L591.76,78.08 L592.49,77.56 L593.22,77.05 L593.95,76.53 L594.68,76.01 L595.41,75.49 L596.14,74.97 L596.87,74.45 L597.60,73.93 L598.33,73.40 L599.06,72.88 L599.79,72.35 L600.52,71.82 L601.25,71.29 L601.98,70.76 L602.71,70.22 L603.44,69.69 L604.16,69.15 L604.89,68.62 L605.62,68.08 L606.35,67.54 L607.08,67.00 L607.81,66.46 L608.54,65.92 L609.27,65.37 L610.00,64.83 L610.73,64.28 L611.46,63.73 L612.19,63.18 L612.92,62.63 L613.65,62.08 L614.38,61.53 L615.11,60.98 L615.84,60.42 L616.57,59.87 L617.30,59.31 L618.03,58.76 L618.76,58.20 L619.49,57.64 L620.21,57.08 L620.94,56.52 L621.67,55.95 L622.40,55.39 L623.13,54.82 L623.86,54.26 L624.59,53.69 L625.32,53.13 L626.05,52.56 L626.78,51.99 L627.51,51.42 L628.24,50.85 L628.97,50.27 L629.70,49.70 L630.43,49.13 L631.16,48.55 L631.89,47.98 L632.62,47.40 L633.35,46.82 L634.08,46.24 L634.81,45.66 L635.54,45.08 L636.26,44.50 L636.99,43.92 L637.72,43.34 L638.45,42.75 L639.18,42.17 L639.91,41.58 L640.64,41.00 L641.37,40.41 L642.10,39.82 L642.83,39.23 L643.56,38.65 L644.29,38.06 L645.02,37.46 L645.75,36.87 L646.48,36.28 L647.21,35.69 L647.94,35.09 L648.67,34.50 L649.40,33.90 L650.13,33.31 L650.86,32.71 L651.59,32.11 L652.31,31.51 L653.04,30.91 L653.77,30.31 L654.50,29.71 L655.23,29.11 L655.96,28.51 L656.69,27.91 L657.42,27.31 L658.15,26.70 L658.88,26.10 L659.61,25.49 L660.34,24.89 L661.07,24.28 L661.80,23.67 L662.53,23.06 L663.26,22.45 L663.99,21.84 L664.72,21.23 L665.45,20.62 L666.18,20.01 L666.91,19.40 L667.64,18.79 L668.36,18.18 L669.09,17.56 L669.82,16.95 L670.55,16.33 L671.28,15.72 L672.01,15.10 L672.74,14.48 L673.47,13.87 L674.20,13.25 L674.93,12.63 L675.66,12.01 L676.39,11.39" stroke="#05f505" stroke-width="2.0" stroke-linecap="square"/>
<path d="M385.30,114.41 L386.03,114.41 L386.76,114.41 L387.49,114.42 L388.22,114.42 L388.95,114.43 L389.68,114.43 L390.41,114.44 L391.14,114.45 L391.87,114.46 L392.60,114.47 L393.33,114.48 L394.05,114.50 L394.78,114.51 L395.51,114.53 L396.24,114.54 L396.97,114.56 L397.70,114.58 L398.43,114.60 L399.16,114.62 L399.89,114.64 L400.62,114.66 L401.35,114.69 L402.08,114.71 L402.81,114.74 L403.54,114.77 L404.27,114.80 L405.00,114.83 L405.73,114.86 L406.46,114.89 L407.19,114.92 L407.92,114.95 L408.65,114.99 L409.38,115.02 L410.10,115.06 L410.83,115.09 L411.56,115.13 L412.29,115.17 L413.02,115.21 L413.75,115.25 L414.48,115.29 L415.21,115.33 L415.94,115.37 L416.67,115.41 L417.40,115.46 L418.13,115.50 L418.86,115.55 L419.59,115.59 L420.32,115.64 L421.05,115.68 L421.78,115.73 L422.51,115.78 L423.24,115.82 L423.97,115.87 L424.70,115.92 L425.43,115.97 L426.15,116.02 L426.88,116.07 L427.61,116.12 L428.34,116.17 L429.07,116.22 L429.80,116.27 L430.53,116.32 L431.26,116.37 L431.99,116.42 L432.72,116.47 L433.45,116.52 L434.18,116.57 L434.91,116.62 L435.64,116.67 L436.37,116.72 L437.10,116.77 L437.83,116.82 L438.56,116.87 L439.29,116.91 L440.02,116.96 L440.75,117.01 L441.48,117.06 L442.20,117.11 L442.93,117.15 L443.66,117.20 L444.39,117.24 L445.12,117.29 L445.85,117.33 L446.58,117.38 L447.31,117.42 L448.04,117.46 L448.77,117.50 L449.50,117.54 L450.23,117.58 L450.96,117.62 L451.69,117.65 L452.42,117.69 L453.15,117.72 L453.88,117.76 L454.61,117.79 L455.34,117.82 L456.07,117.85 L456.80,117.88 L457.53,117.90 L458.25,117.93 L458.98,117.95 L459.71,117.98 L460.44,118.00 L461.17,118.01 L461.90,118.03 L462.63,118.05 L463.36,118.06 L464.09,118.07 L464.82,118.08 L465.55,118.09 L466.28,118.09 L467.01,118.10 L467.74,118.10 L468.47,118.10 L469.20,118.10 L469.93,118.09 L470.66,118.08 L471.39,118.07 L472.12,118.06 L472.85,118.05 L473.58,118.03 L474.30,118.01 L475.03,117.99 L475.76,117.96 L476.49,117.94 L477.22,117.91 L477.95,117.87 L478.68,117.84 L479.41,117.80 L480.14,117.76 L480.87,117.71 L481.60,117.67 L482.33,117.62 L483.06,117.57 L483.79,117.51 L484.52,117.45 L485.25,117.39 L485.98,117.32 L486.71,117.26 L487.44,117.18 L488.17,117.11 L488.90,117.03 L489.63,116.95 L490.36,116.87 L491.08,116.78 L491.81,116.69 L492.54,116.59 L493.27,116.49 L494.00,116.39 L494.73,116.29 L495.46,116.18 L496.19,116.07 L496.92,115.95 L497.65,115.83 L498.38,115.71 L499.11,115.59 L499.84,115.46 L500.57,115.32 L501.30,115.19 L502.03,115.05 L502.76,114.90 L503.49,114.76 L504.22,114.61 L504.95,114.45 L505.68,114.29 L506.41,114.13 L507.13,113.96 L507.86,113.80 L508.59,113.62 L509.32,113.45 L510.05,113.27 L510.78,113.08 L511.51,112.89 L512.24,112.70 L512.97,112.51 L513.70,112.31 L514.43,112.11 L515.16,111.90 L515.89,111.69 L516.62,111.48 L517.35,111.26 L518.08,111.04 L518.81,110.82 L519.54,110.59 L520.27,110.36 L521.00,110.12 L521.73,109.88 L522.46,109.64 L523.18,109.39 L523.91,109.15 L524.64,108.89 L525.37,108.64 L526.10,108.38 L526.83,108.11 L527.56,107.85 L528.29,107.58 L529.02,107.30 L529.75,107.03 L530.48,106.75 L531.21,106.46 L531.94,106.17 L532.67,105.88 L533.40,105.59 L534.13,105.29 L534.86,104.99 L535.59,104.69 L536.32,104.38 L537.05,104.07 L537.78,103.76 L538.51,103.44 L539.23,103.12 L539.96,102.80 L540.69,102.47 L541.42,102.15 L542.15,101.81 L542.88,101.48 L543.61,101.14 L544.34,100.80 L545.07,100.46 L545.80,100.11 L546.53,99.76 L547.26,99.41 L547.99,99.05 L548.72,98.69 L549.45,98.33 L550.18,97.97 L550.91,97.60 L551.64,97.23 L552.37,96.86 L553.10,96.48 L553.83,96.10 L554.56,95.72 L555.28,95.34 L556.01,94.95 L556.74,94.57 L557.47,94.17 L558.20,93.78 L558.93,93.39 L559.66,92.99 L560.39,92.59 L561.12,92.18 L561.85,91.78 L562.58,91.37 L563.31,90.96 L564.04,90.54 L564.77,90.13 L565.50,89.71 L566.23,89.29 L566.96,88.87 L567.69,88.44 L568.42,88.02 L569.15,87.59 L569.88,87.16 L570.61,86.72 L571.33,86.29 L572.06,85.85 L572.79,85.41 L573.52,84.97 L574.25,84.52 L574.98,84.08 L575.71,83.63 L576.44,83.18 L577.17,82.73 L577.90,82.27 L578.63,81.82 L579.36,81.36 L580.09,80.90 L580.82,80.44 L581.55,79.97 L582.28,79.51 L583.01,79.04 L583.74,78.57 L584.47,78.10 L585.20,77.63 L585.93,77.15 L586.66,76.68 L587.39,76.20 L588.11,75.72 L588.84,75.24 L589.57,74.75 L590.30,74.27 L591.03,73.78 L591.76,73.29 L592.49,72.80 L593.22,72.31 L593.95,71.82 L594.68,71.32 L595.41,70.83 L596.14,70.33 L596.87,69.83 L597.60,69.33 L598.33,68.83 L599.06,68.32 L599.79,67.82 L600.52,67.31 L601.25,66.80 L601.98,66.29 L602.71,65.78 L603.44,65.27 L604.16,64.75 L604.89,64.24 L605.62,63.72 L606.35,63.20 L607.08,62.68 L607.81,62.16 L608.54,61.64 L609.27,61.11 L610.00,60.59 L610.73,60.06 L611.46,59.53 L612.19,59.01 L612.92,58.48 L613.65,57.94 L614.38,57.41 L615.11,56.88 L615.84,56.34 L616.57,55.81 L617.30,55.27 L618.03,54.73 L618.76,54.19 L619.49,53.65 L620.21,53.11 L620.94,52.56 L621.67,52.02 L622.40,51.47 L623.13,50.93 L623.86,50.38 L624.59,49.83 L625.32,49.28 L626.05,48.73 L626.78,48.18 L627.51,47.62 L628.24,47.07 L628.97,46.51 L629.70,45.96 L630.43,45.40 L631.16,44.84 L631.89,44.28 L632.62,43.72 L633.35,43.16 L634.08,42.60 L634.81,42.04 L635.54,41.47 L636.26,40.91 L636.99,40.34 L637.72,39.77 L638.45,39.20 L639.18,38.63 L639.91,38.06 L640.64,37.49 L641.37,36.92 L642.10,36.35 L642.83,35.78 L643.56,35.20 L644.29,34.63 L645.02,34.05 L645.75,33.47 L646.48,32.89 L647.21,32.31 L647.94,31.73 L648.67,31.15 L649.40,30.57 L650.13,29.99 L650.86,29.41 L651.59,28.82 L652.31,28.24 L653.04,27.65 L653.77,27.07 L654.50,26.48 L655.23,25.89 L655.96,25.30 L656.69,24.71 L657.42,24.12 L658.15,23.53 L658.88,22.94 L659.61,22.35 L660.34,21.75 L661.07,21.16 L661.80,20.56 L662.53,19.97 L663.26,19.37 L663.99,18.78 L664.72,18.18 L665.45,17.58 L666.18,16.98 L666.91,16.38 L667.64,15.78 L668.36,15.18 L669.09,14.58 L669.82,13.97 L670.55,13.37 L671.28,12.76 L672.01,12.16 L672.74,11.55 L673.47,10.95 L674.20,10.34 L674.93,9.73 L675.66,9.13 L676.39,8.52" stroke="#05f505" stroke-width="2.0" stroke-linecap="square" stroke-dasharray="3.85 3.85"/>
</g>
<rect x="379.5" y="5.3" width="302.70000000000005" height="181.79999999999998" fill="none" stroke="#1a1a1a" stroke-width="0.9"/>
<path d="M385.30,187.1 v-3.6 M385.30,5.3 v3.6 M395.00,187.1 v-2.1 M395.00,5.3 v2.1 M404.71,187.1 v-2.1 M404.71,5.3 v2.1 M414.41,187.1 v-2.1 M414.41,5.3 v2.1 M424.11,187.1 v-2.1 M424.11,5.3 v2.1 M433.81,187.1 v-3.6 M433.81,5.3 v3.6 M443.52,187.1 v-2.1 M443.52,5.3 v2.1 M453.22,187.1 v-2.1 M453.22,5.3 v2.1 M462.92,187.1 v-2.1 M462.92,5.3 v2.1 M472.63,187.1 v-2.1 M472.63,5.3 v2.1 M482.33,187.1 v-3.6 M482.33,5.3 v3.6 M492.03,187.1 v-2.1 M492.03,5.3 v2.1 M501.74,187.1 v-2.1 M501.74,5.3 v2.1 M511.44,187.1 v-2.1 M511.44,5.3 v2.1 M521.14,187.1 v-2.1 M521.14,5.3 v2.1 M530.85,187.1 v-3.6 M530.85,5.3 v3.6 M540.55,187.1 v-2.1 M540.55,5.3 v2.1 M550.25,187.1 v-2.1 M550.25,5.3 v2.1 M559.95,187.1 v-2.1 M559.95,5.3 v2.1 M569.66,187.1 v-2.1 M569.66,5.3 v2.1 M579.36,187.1 v-3.6 M579.36,5.3 v3.6 M589.06,187.1 v-2.1 M589.06,5.3 v2.1 M598.77,187.1 v-2.1 M598.77,5.3 v2.1 M608.47,187.1 v-2.1 M608.47,5.3 v2.1 M618.17,187.1 v-2.1 M618.17,5.3 v2.1 M627.88,187.1 v-3.6 M627.88,5.3 v3.6 M637.58,187.1 v-2.1 M637.58,5.3 v2.1 M647.28,187.1 v-2.1 M647.28,5.3 v2.1 M656.98,187.1 v-2.1 M656.98,5.3 v2.1 M666.69,187.1 v-2.1 M666.69,5.3 v2.1 M676.39,187.1 v-3.6 M676.39,5.3 v3.6 M379.5,183.30 h3.6 M682.2,183.30 h-3.6 M379.5,178.30 h2.1 M682.2,178.30 h-2.1 M379.5,173.30 h2.1 M682.2,173.30 h-2.1 M379.5,168.31 h2.1 M682.2,168.31 h-2.1 M379.5,163.31 h2.1 M682.2,163.31 h-2.1 M379.5,158.31 h3.6 M682.2,158.31 h-3.6 M379.5,153.31 h2.1 M682.2,153.31 h-2.1 M379.5,148.31 h2.1 M682.2,148.31 h-2.1 M379.5,143.32 h2.1 M682.2,143.32 h-2.1 M379.5,138.32 h2.1 M682.2,138.32 h-2.1 M379.5,133.32 h3.6 M682.2,133.32 h-3.6 M379.5,128.32 h2.1 M682.2,128.32 h-2.1 M379.5,123.32 h2.1 M682.2,123.32 h-2.1 M379.5,118.33 h2.1 M682.2,118.33 h-2.1 M379.5,113.33 h2.1 M682.2,113.33 h-2.1 M379.5,108.33 h3.6 M682.2,108.33 h-3.6 M379.5,103.33 h2.1 M682.2,103.33 h-2.1 M379.5,98.33 h2.1 M682.2,98.33 h-2.1 M379.5,93.34 h2.1 M682.2,93.34 h-2.1 M379.5,88.34 h2.1 M682.2,88.34 h-2.1 M379.5,83.34 h3.6 M682.2,83.34 h-3.6 M379.5,78.34 h2.1 M682.2,78.34 h-2.1 M379.5,73.34 h2.1 M682.2,73.34 h-2.1 M379.5,68.35 h2.1 M682.2,68.35 h-2.1 M379.5,63.35 h2.1 M682.2,63.35 h-2.1 M379.5,58.35 h3.6 M682.2,58.35 h-3.6 M379.5,53.35 h2.1 M682.2,53.35 h-2.1 M379.5,48.35 h2.1 M682.2,48.35 h-2.1 M379.5,43.36 h2.1 M682.2,43.36 h-2.1 M379.5,38.36 h2.1 M682.2,38.36 h-2.1 M379.5,33.36 h3.6 M682.2,33.36 h-3.6 M379.5,28.36 h2.1 M682.2,28.36 h-2.1 M379.5,23.36 h2.1 M682.2,23.36 h-2.1 M379.5,18.37 h2.1 M682.2,18.37 h-2.1 M379.5,13.37 h2.1 M682.2,13.37 h-2.1 M379.5,8.37 h3.6 M682.2,8.37 h-3.6" stroke="#1a1a1a" stroke-width="0.8" fill="none"/>
<g class="tl">
<text x="387.0" y="197.6" text-anchor="middle">0.0</text>
<text x="435.5" y="197.6" text-anchor="middle">0.5</text>
<text x="484.0" y="197.6" text-anchor="middle">1.0</text>
<text x="532.5" y="197.6" text-anchor="middle">1.5</text>
<text x="581.1" y="197.6" text-anchor="middle">2.0</text>
<text x="629.6" y="197.6" text-anchor="middle">2.5</text>
<text x="678.1" y="197.6" text-anchor="middle">3.0</text>
<text x="376.2" y="186.4" text-anchor="end">0.0</text>
<text x="376.2" y="161.4" text-anchor="end">0.1</text>
<text x="376.2" y="136.4" text-anchor="end">0.2</text>
<text x="376.2" y="111.4" text-anchor="end">0.3</text>
<text x="376.2" y="86.4" text-anchor="end">0.4</text>
<text x="376.2" y="61.5" text-anchor="end">0.5</text>
<text x="376.2" y="36.5" text-anchor="end">0.6</text>
<text x="376.2" y="11.5" text-anchor="end">0.7</text>
</g>
<text class="al" x="531.6" y="212.3" text-anchor="middle">q</text>
<text class="al" transform="translate(356.1,94.9) rotate(-90)" text-anchor="middle">T</text>
<rect x="396.0" y="19.4" width="160.39999999999998" height="66.19999999999999" rx="5" ry="5" fill="#fff" stroke="#000" stroke-width="1.4"/>
<g class="lg" font-size="8.2">
<line x1="400.9" y1="28.4" x2="416.7" y2="28.4" stroke="#000000" stroke-width="1.8"/>
<text x="421.0" y="31.5">m=0.25</text>
<line x1="400.9" y1="43.5" x2="416.7" y2="43.5" stroke="#000000" stroke-width="1.8"/>
<text x="421.0" y="46.6">m=0.5</text>
<line x1="400.9" y1="58.5" x2="416.7" y2="58.5" stroke="#000000" stroke-width="1.8"/>
<text x="421.0" y="61.6">m=0.75</text>
<line x1="400.9" y1="73.5" x2="416.7" y2="73.5" stroke="#ff0000" stroke-width="1.8"/>
<text x="421.0" y="76.6">m=1</text>
<line x1="455.0" y1="28.4" x2="470.8" y2="28.4" stroke="#ff0000" stroke-width="1.8"/>
<text x="475.1" y="31.5">m=1.02</text>
<line x1="455.0" y1="43.5" x2="470.8" y2="43.5" stroke="#ff0000" stroke-width="1.8"/>
<text x="475.1" y="46.6">m=1.1</text>
<line x1="455.0" y1="58.5" x2="470.8" y2="58.5" stroke="#fff800" stroke-width="1.8"/>
<text x="475.1" y="61.6">m=1.2</text>
<line x1="455.0" y1="73.5" x2="470.8" y2="73.5" stroke="#fff800" stroke-width="1.8"/>
<text x="475.1" y="76.6">m=1.5</text>
<line x1="508.8" y1="28.4" x2="524.6" y2="28.4" stroke="#fff800" stroke-width="1.8"/>
<text x="528.9" y="31.5">m=2</text>
<line x1="508.8" y1="43.5" x2="524.6" y2="43.5" stroke="#05f505" stroke-width="1.8"/>
<text x="528.9" y="46.6">m=2.5</text>
<line x1="508.8" y1="58.5" x2="524.6" y2="58.5" stroke="#05f505" stroke-width="1.8"/>
<text x="528.9" y="61.6">m=3</text>
</g>
<text class="cap" y="238.9"><tspan x="486.0" font-weight="bold">(b)</tspan><tspan x="509.5" font-style="italic" textLength="10.4" lengthAdjust="spacingAndGlyphs">T</tspan><tspan x="525.8">vs</tspan><tspan x="543.9" font-style="italic">q</tspan></text>
</svg>
</body></html>
